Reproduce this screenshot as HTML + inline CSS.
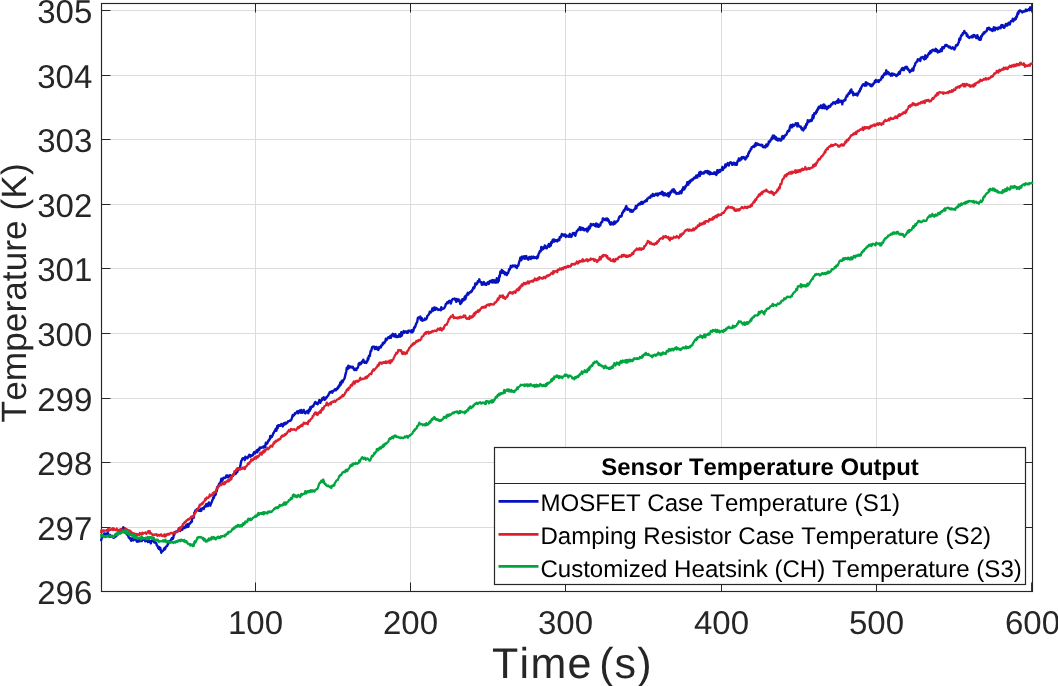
<!DOCTYPE html>
<html><head><meta charset="utf-8"><title>Sensor Temperature Output</title>
<style>
html,body{margin:0;padding:0;background:#fff;}
body{width:1058px;height:686px;overflow:hidden;font-family:"Liberation Sans",sans-serif;}
svg{display:block;will-change:transform;font-family:"Liberation Sans",sans-serif;font-kerning:none;font-feature-settings:"kern" 0,"liga" 0;text-rendering:geometricPrecision;}
.grid line{stroke:#dcdcdc;stroke-width:1;}
.ticks line{stroke:#262626;stroke-width:1;}
.tl text{font-size:33px;fill:#262626;}
.curve{fill:none;stroke-width:2.4;stroke-linejoin:round;stroke-linecap:round;}
</style></head><body>
<svg width="1058" height="686" viewBox="0 0 1058 686">
<rect x="0" y="0" width="1058" height="686" fill="#ffffff"/>
<g class="grid"><line x1="255.5" y1="3.5" x2="255.5" y2="591.5"/><line x1="410.5" y1="3.5" x2="410.5" y2="591.5"/><line x1="565.5" y1="3.5" x2="565.5" y2="591.5"/><line x1="721.5" y1="3.5" x2="721.5" y2="591.5"/><line x1="876.5" y1="3.5" x2="876.5" y2="591.5"/><line x1="101.5" y1="527.5" x2="1032.5" y2="527.5"/><line x1="101.5" y1="462.5" x2="1032.5" y2="462.5"/><line x1="101.5" y1="398.5" x2="1032.5" y2="398.5"/><line x1="101.5" y1="333.5" x2="1032.5" y2="333.5"/><line x1="101.5" y1="268.5" x2="1032.5" y2="268.5"/><line x1="101.5" y1="204.5" x2="1032.5" y2="204.5"/><line x1="101.5" y1="139.5" x2="1032.5" y2="139.5"/><line x1="101.5" y1="75.5" x2="1032.5" y2="75.5"/><line x1="101.5" y1="10.5" x2="1032.5" y2="10.5"/></g>
<g class="ticks"><line x1="255.5" y1="591.5" x2="255.5" y2="582.5"/><line x1="255.5" y1="3.5" x2="255.5" y2="12.5"/><line x1="410.5" y1="591.5" x2="410.5" y2="582.5"/><line x1="410.5" y1="3.5" x2="410.5" y2="12.5"/><line x1="565.5" y1="591.5" x2="565.5" y2="582.5"/><line x1="565.5" y1="3.5" x2="565.5" y2="12.5"/><line x1="721.5" y1="591.5" x2="721.5" y2="582.5"/><line x1="721.5" y1="3.5" x2="721.5" y2="12.5"/><line x1="876.5" y1="591.5" x2="876.5" y2="582.5"/><line x1="876.5" y1="3.5" x2="876.5" y2="12.5"/><line x1="1031.6" y1="591.5" x2="1031.6" y2="582.5"/><line x1="1031.6" y1="3.5" x2="1031.6" y2="12.5"/><line x1="101.5" y1="527.5" x2="110.5" y2="527.5"/><line x1="1032.5" y1="527.5" x2="1023.5" y2="527.5"/><line x1="101.5" y1="462.5" x2="110.5" y2="462.5"/><line x1="1032.5" y1="462.5" x2="1023.5" y2="462.5"/><line x1="101.5" y1="398.5" x2="110.5" y2="398.5"/><line x1="1032.5" y1="398.5" x2="1023.5" y2="398.5"/><line x1="101.5" y1="333.5" x2="110.5" y2="333.5"/><line x1="1032.5" y1="333.5" x2="1023.5" y2="333.5"/><line x1="101.5" y1="268.5" x2="110.5" y2="268.5"/><line x1="1032.5" y1="268.5" x2="1023.5" y2="268.5"/><line x1="101.5" y1="204.5" x2="110.5" y2="204.5"/><line x1="1032.5" y1="204.5" x2="1023.5" y2="204.5"/><line x1="101.5" y1="139.5" x2="110.5" y2="139.5"/><line x1="1032.5" y1="139.5" x2="1023.5" y2="139.5"/><line x1="101.5" y1="75.5" x2="110.5" y2="75.5"/><line x1="1032.5" y1="75.5" x2="1023.5" y2="75.5"/><line x1="101.5" y1="10.5" x2="110.5" y2="10.5"/><line x1="1032.5" y1="10.5" x2="1023.5" y2="10.5"/></g>
<rect x="101.5" y="3.5" width="931.0" height="588.0" fill="none" stroke="#262626" stroke-width="1.15"/>
<clipPath id="cp"><rect x="100.1" y="3.5" width="933.6" height="588.0"/></clipPath>
<g clip-path="url(#cp)">
<path class="curve" stroke="#0512be" d="M100.8,540.2 L101.3,539.7 L101.8,537.8 L102.3,536.5 L102.8,535.6 L103.3,536.0 L103.8,534.4 L104.3,533.4 L104.8,534.6 L105.3,534.6 L105.8,535.0 L106.3,533.6 L106.8,534.4 L107.3,534.4 L107.8,533.0 L108.3,534.9 L108.8,534.7 L109.3,536.8 L109.8,535.0 L110.3,535.0 L110.8,536.6 L111.3,535.9 L111.8,536.8 L112.3,535.9 L112.8,536.8 L113.3,537.8 L113.8,537.8 L114.3,537.5 L114.8,536.0 L115.3,536.8 L115.8,535.9 L116.3,535.9 L116.8,534.8 L117.3,535.0 L117.8,533.4 L118.3,533.0 L118.8,532.8 L119.3,530.6 L119.8,530.6 L120.3,529.9 L120.8,531.7 L121.3,529.1 L121.8,529.2 L122.3,529.1 L122.8,528.3 L123.3,527.3 L123.8,529.8 L124.3,528.6 L124.8,529.8 L125.3,528.6 L125.8,530.5 L126.3,533.3 L126.8,534.5 L127.3,533.1 L127.8,534.2 L128.3,536.3 L128.8,537.6 L129.3,537.7 L129.8,538.5 L130.3,537.9 L130.8,540.0 L131.3,540.8 L131.8,539.3 L132.3,538.4 L132.8,539.0 L133.3,540.4 L133.8,538.1 L134.3,539.6 L134.8,538.8 L135.3,539.6 L135.8,539.6 L136.3,540.0 L136.8,541.5 L137.3,540.7 L137.8,541.7 L138.3,540.5 L138.8,540.4 L139.3,541.3 L139.8,538.9 L140.3,541.1 L140.8,541.1 L141.3,539.6 L141.8,541.0 L142.3,539.9 L142.8,538.0 L143.3,539.8 L143.8,538.9 L144.3,539.3 L144.8,539.8 L145.3,541.3 L145.8,540.3 L146.3,540.3 L146.8,540.8 L147.3,539.0 L147.8,542.1 L148.3,540.2 L148.8,541.8 L149.3,540.6 L149.8,541.0 L150.3,541.5 L150.8,543.4 L151.3,542.0 L151.8,540.5 L152.3,540.6 L152.8,539.5 L153.3,540.8 L153.8,540.8 L154.3,542.5 L154.8,541.0 L155.3,542.5 L155.8,542.5 L156.3,543.3 L156.8,545.4 L157.3,545.6 L157.8,546.8 L158.3,548.1 L158.8,548.8 L159.3,547.1 L159.8,549.5 L160.3,548.0 L160.8,550.2 L161.3,552.7 L161.8,551.3 L162.3,551.2 L162.8,551.1 L163.3,550.3 L163.8,549.7 L164.3,548.3 L164.8,549.4 L165.3,548.5 L165.8,546.8 L166.3,546.5 L166.8,546.1 L167.3,545.7 L167.8,544.3 L168.3,543.9 L168.8,542.4 L169.3,541.0 L169.8,540.9 L170.3,541.7 L170.8,541.1 L171.3,539.6 L171.8,538.2 L172.3,538.3 L172.8,538.8 L173.3,537.7 L173.8,535.1 L174.3,534.8 L174.8,532.5 L175.3,531.8 L175.8,532.2 L176.3,531.6 L176.8,531.9 L177.3,531.7 L177.8,530.8 L178.3,530.8 L178.8,528.6 L179.3,528.0 L179.8,529.4 L180.3,531.0 L180.8,529.1 L181.3,527.5 L181.8,528.8 L182.3,529.8 L182.8,527.2 L183.3,528.5 L183.8,526.8 L184.3,528.1 L184.8,527.3 L185.3,526.4 L185.8,527.6 L186.3,525.0 L186.8,524.6 L187.3,526.8 L187.8,524.2 L188.3,526.9 L188.8,524.7 L189.3,523.6 L189.8,523.8 L190.3,523.2 L190.8,522.5 L191.3,521.4 L191.8,521.8 L192.3,517.9 L192.8,518.2 L193.3,517.1 L193.8,517.6 L194.3,512.7 L194.8,512.9 L195.3,510.7 L195.8,510.2 L196.3,510.4 L196.8,509.2 L197.3,510.3 L197.8,508.7 L198.3,509.7 L198.8,510.8 L199.3,510.8 L199.8,509.9 L200.3,511.0 L200.8,508.7 L201.3,510.8 L201.8,508.9 L202.3,508.3 L202.8,508.3 L203.3,508.5 L203.8,508.9 L204.3,506.8 L204.8,506.2 L205.3,506.7 L205.8,505.0 L206.3,504.0 L206.8,506.2 L207.3,504.9 L207.8,506.1 L208.3,504.0 L208.8,502.5 L209.3,504.8 L209.8,504.6 L210.3,505.7 L210.8,504.0 L211.3,502.8 L211.8,502.0 L212.3,500.1 L212.8,499.6 L213.3,497.2 L213.8,498.0 L214.3,495.7 L214.8,495.1 L215.3,495.1 L215.8,494.2 L216.3,490.4 L216.8,491.2 L217.3,486.9 L217.8,487.2 L218.3,486.3 L218.8,484.7 L219.3,483.6 L219.8,484.3 L220.3,482.7 L220.8,481.5 L221.3,478.8 L221.8,479.4 L222.3,480.7 L222.8,479.4 L223.3,477.9 L223.8,477.8 L224.3,477.6 L224.8,478.1 L225.3,477.4 L225.8,477.6 L226.3,475.4 L226.8,476.9 L227.3,475.5 L227.8,475.6 L228.3,477.4 L228.8,475.8 L229.3,475.6 L229.8,475.4 L230.3,475.2 L230.8,477.0 L231.3,476.7 L231.8,476.0 L232.3,475.5 L232.8,476.0 L233.3,474.5 L233.8,474.5 L234.3,473.9 L234.8,473.1 L235.3,474.1 L235.8,473.7 L236.3,472.8 L236.8,469.2 L237.3,472.1 L237.8,470.3 L238.3,468.5 L238.8,468.2 L239.3,468.5 L239.8,467.8 L240.3,466.2 L240.8,463.3 L241.3,460.9 L241.8,460.1 L242.3,459.0 L242.8,458.1 L243.3,458.1 L243.8,458.4 L244.3,458.6 L244.8,460.2 L245.3,456.6 L245.8,458.1 L246.3,457.4 L246.8,457.5 L247.3,458.2 L247.8,457.8 L248.3,456.3 L248.8,455.7 L249.3,454.8 L249.8,455.8 L250.3,456.8 L250.8,455.2 L251.3,455.9 L251.8,455.7 L252.3,455.2 L252.8,455.4 L253.3,453.9 L253.8,452.8 L254.3,452.0 L254.8,453.6 L255.3,452.0 L255.8,451.6 L256.3,452.2 L256.8,450.3 L257.3,452.3 L257.8,450.9 L258.3,449.3 L258.8,448.8 L259.3,450.1 L259.8,447.5 L260.3,447.6 L260.8,447.9 L261.3,447.9 L261.8,447.4 L262.3,447.5 L262.8,446.6 L263.3,446.6 L263.8,447.6 L264.3,446.8 L264.8,445.5 L265.3,447.0 L265.8,442.8 L266.3,444.0 L266.8,443.8 L267.3,443.4 L267.8,441.8 L268.3,440.6 L268.8,440.8 L269.3,439.4 L269.8,439.3 L270.3,436.0 L270.8,437.8 L271.3,436.0 L271.8,436.9 L272.3,435.9 L272.8,435.0 L273.3,433.1 L273.8,433.0 L274.3,431.4 L274.8,431.0 L275.3,430.1 L275.8,428.8 L276.3,430.8 L276.8,429.1 L277.3,425.9 L277.8,428.0 L278.3,425.3 L278.8,425.9 L279.3,425.4 L279.8,425.3 L280.3,425.8 L280.8,425.1 L281.3,423.9 L281.8,425.1 L282.3,425.3 L282.8,426.4 L283.3,424.2 L283.8,423.2 L284.3,423.7 L284.8,424.4 L285.3,422.7 L285.8,422.6 L286.3,423.6 L286.8,422.8 L287.3,422.8 L287.8,421.7 L288.3,421.2 L288.8,421.3 L289.3,421.0 L289.8,420.5 L290.3,420.8 L290.8,420.5 L291.3,419.6 L291.8,418.5 L292.3,416.2 L292.8,415.0 L293.3,416.1 L293.8,415.0 L294.3,414.8 L294.8,413.3 L295.3,413.8 L295.8,413.1 L296.3,412.5 L296.8,412.4 L297.3,411.3 L297.8,412.5 L298.3,413.3 L298.8,411.3 L299.3,411.8 L299.8,410.4 L300.3,411.8 L300.8,412.8 L301.3,410.0 L301.8,411.1 L302.3,412.8 L302.8,412.0 L303.3,411.9 L303.8,410.0 L304.3,411.9 L304.8,413.0 L305.3,413.5 L305.8,412.8 L306.3,411.7 L306.8,411.7 L307.3,410.7 L307.8,411.5 L308.3,413.3 L308.8,411.3 L309.3,409.3 L309.8,410.9 L310.3,407.2 L310.8,409.1 L311.3,406.8 L311.8,406.9 L312.3,406.8 L312.8,405.9 L313.3,406.3 L313.8,404.6 L314.3,403.8 L314.8,403.0 L315.3,401.9 L315.8,402.4 L316.3,403.7 L316.8,403.3 L317.3,403.6 L317.8,404.2 L318.3,402.4 L318.8,402.0 L319.3,400.0 L319.8,400.8 L320.3,402.8 L320.8,401.1 L321.3,400.2 L321.8,400.4 L322.3,398.1 L322.8,398.8 L323.3,398.1 L323.8,397.2 L324.3,399.7 L324.8,399.7 L325.3,398.4 L325.8,398.7 L326.3,397.2 L326.8,397.4 L327.3,396.4 L327.8,395.9 L328.3,395.5 L328.8,394.0 L329.3,393.1 L329.8,392.0 L330.3,391.8 L330.8,392.6 L331.3,392.1 L331.8,391.3 L332.3,392.7 L332.8,391.6 L333.3,390.8 L333.8,390.4 L334.3,390.5 L334.8,389.4 L335.3,389.2 L335.8,390.3 L336.3,389.1 L336.8,388.6 L337.3,389.2 L337.8,387.2 L338.3,387.8 L338.8,385.8 L339.3,386.6 L339.8,385.1 L340.3,382.5 L340.8,384.8 L341.3,383.0 L341.8,380.8 L342.3,382.3 L342.8,381.8 L343.3,380.0 L343.8,379.8 L344.3,378.8 L344.8,377.5 L345.3,375.1 L345.8,373.1 L346.3,371.5 L346.8,367.6 L347.3,368.5 L347.8,368.8 L348.3,365.8 L348.8,368.1 L349.3,367.8 L349.8,366.4 L350.3,366.8 L350.8,366.4 L351.3,367.4 L351.8,367.5 L352.3,367.6 L352.8,366.7 L353.3,368.5 L353.8,368.3 L354.3,370.0 L354.8,369.9 L355.3,368.7 L355.8,369.3 L356.3,370.0 L356.8,368.5 L357.3,368.4 L357.8,367.7 L358.3,366.0 L358.8,363.4 L359.3,363.3 L359.8,364.5 L360.3,362.6 L360.8,364.2 L361.3,362.7 L361.8,362.9 L362.3,361.2 L362.8,361.6 L363.3,359.6 L363.8,361.8 L364.3,362.7 L364.8,361.5 L365.3,361.7 L365.8,362.6 L366.3,362.9 L366.8,361.4 L367.3,361.6 L367.8,358.2 L368.3,359.6 L368.8,356.1 L369.3,355.4 L369.8,356.1 L370.3,352.6 L370.8,350.6 L371.3,350.8 L371.8,348.5 L372.3,347.0 L372.8,346.7 L373.3,346.7 L373.8,346.6 L374.3,346.6 L374.8,349.1 L375.3,347.1 L375.8,348.8 L376.3,346.9 L376.8,349.0 L377.3,347.6 L377.8,348.7 L378.3,350.0 L378.8,348.8 L379.3,346.9 L379.8,347.6 L380.3,347.4 L380.8,347.5 L381.3,345.4 L381.8,345.5 L382.3,345.2 L382.8,343.0 L383.3,343.8 L383.8,342.6 L384.3,343.1 L384.8,342.0 L385.3,341.4 L385.8,338.7 L386.3,340.3 L386.8,339.5 L387.3,338.5 L387.8,338.4 L388.3,337.2 L388.8,338.0 L389.3,338.0 L389.8,337.4 L390.3,336.0 L390.8,337.9 L391.3,336.8 L391.8,334.9 L392.3,335.4 L392.8,333.8 L393.3,335.2 L393.8,336.0 L394.3,336.6 L394.8,335.2 L395.3,334.0 L395.8,335.6 L396.3,337.1 L396.8,336.1 L397.3,336.9 L397.8,336.3 L398.3,336.8 L398.8,335.7 L399.3,334.3 L399.8,335.2 L400.3,336.7 L400.8,333.8 L401.3,332.2 L401.8,335.7 L402.3,333.8 L402.8,332.5 L403.3,332.2 L403.8,331.0 L404.3,332.8 L404.8,332.2 L405.3,331.4 L405.8,331.5 L406.3,331.4 L406.8,332.7 L407.3,331.4 L407.8,332.8 L408.3,330.6 L408.8,330.8 L409.3,330.9 L409.8,330.8 L410.3,331.2 L410.8,332.2 L411.3,332.3 L411.8,330.2 L412.3,332.3 L412.8,330.9 L413.3,331.3 L413.8,328.7 L414.3,327.2 L414.8,327.7 L415.3,326.6 L415.8,324.6 L416.3,323.7 L416.8,322.5 L417.3,321.4 L417.8,318.2 L418.3,317.4 L418.8,317.6 L419.3,318.0 L419.8,317.6 L420.3,316.6 L420.8,319.8 L421.3,318.5 L421.8,318.0 L422.3,320.7 L422.8,320.4 L423.3,320.4 L423.8,320.2 L424.3,320.0 L424.8,318.6 L425.3,319.6 L425.8,319.5 L426.3,319.0 L426.8,318.1 L427.3,316.0 L427.8,315.6 L428.3,315.1 L428.8,314.5 L429.3,313.2 L429.8,311.7 L430.3,311.6 L430.8,312.4 L431.3,311.5 L431.8,311.4 L432.3,308.5 L432.8,309.6 L433.3,310.6 L433.8,307.7 L434.3,308.3 L434.8,307.5 L435.3,309.9 L435.8,308.6 L436.3,307.9 L436.8,308.7 L437.3,308.6 L437.8,309.6 L438.3,310.0 L438.8,309.8 L439.3,309.4 L439.8,309.9 L440.3,309.9 L440.8,310.2 L441.3,307.3 L441.8,309.3 L442.3,309.0 L442.8,309.0 L443.3,308.5 L443.8,308.4 L444.3,308.1 L444.8,307.0 L445.3,306.1 L445.8,304.1 L446.3,303.5 L446.8,303.6 L447.3,302.3 L447.8,303.2 L448.3,302.5 L448.8,301.3 L449.3,300.8 L449.8,301.9 L450.3,301.4 L450.8,303.6 L451.3,302.0 L451.8,300.0 L452.3,299.9 L452.8,299.0 L453.3,298.9 L453.8,298.9 L454.3,298.9 L454.8,298.6 L455.3,300.2 L455.8,300.3 L456.3,301.8 L456.8,299.0 L457.3,301.1 L457.8,300.3 L458.3,299.4 L458.8,300.9 L459.3,299.9 L459.8,301.7 L460.3,304.1 L460.8,302.8 L461.3,303.0 L461.8,302.1 L462.3,299.3 L462.8,300.8 L463.3,300.2 L463.8,300.2 L464.3,298.3 L464.8,296.5 L465.3,299.4 L465.8,297.7 L466.3,296.0 L466.8,294.4 L467.3,294.4 L467.8,292.8 L468.3,294.5 L468.8,293.5 L469.3,292.9 L469.8,292.3 L470.3,292.4 L470.8,292.3 L471.3,291.0 L471.8,291.5 L472.3,290.0 L472.8,288.9 L473.3,287.4 L473.8,288.5 L474.3,287.8 L474.8,286.5 L475.3,283.4 L475.8,284.1 L476.3,284.6 L476.8,283.1 L477.3,283.5 L477.8,281.2 L478.3,281.7 L478.8,281.6 L479.3,279.3 L479.8,281.5 L480.3,282.0 L480.8,282.1 L481.3,282.2 L481.8,284.9 L482.3,283.7 L482.8,284.6 L483.3,282.7 L483.8,282.0 L484.3,283.6 L484.8,284.5 L485.3,283.5 L485.8,284.7 L486.3,284.8 L486.8,283.2 L487.3,283.2 L487.8,282.2 L488.3,283.6 L488.8,283.9 L489.3,282.3 L489.8,281.0 L490.3,280.8 L490.8,281.1 L491.3,282.1 L491.8,280.5 L492.3,282.5 L492.8,279.9 L493.3,280.9 L493.8,282.1 L494.3,282.4 L494.8,280.3 L495.3,281.3 L495.8,282.7 L496.3,281.5 L496.8,278.3 L497.3,280.5 L497.8,282.4 L498.3,279.0 L498.8,280.9 L499.3,275.7 L499.8,276.6 L500.3,271.8 L500.8,272.7 L501.3,272.9 L501.8,270.0 L502.3,271.0 L502.8,272.7 L503.3,271.1 L503.8,272.7 L504.3,272.0 L504.8,274.4 L505.3,272.8 L505.8,272.7 L506.3,274.3 L506.8,275.1 L507.3,273.9 L507.8,273.3 L508.3,272.5 L508.8,270.6 L509.3,268.9 L509.8,269.5 L510.3,267.7 L510.8,265.8 L511.3,267.3 L511.8,266.8 L512.3,266.4 L512.8,265.4 L513.3,265.8 L513.8,266.4 L514.3,266.4 L514.8,265.4 L515.3,265.6 L515.8,267.0 L516.3,267.1 L516.8,267.9 L517.3,265.6 L517.8,266.2 L518.3,265.6 L518.8,263.5 L519.3,261.4 L519.8,260.7 L520.3,257.7 L520.8,258.2 L521.3,260.3 L521.8,256.6 L522.3,256.9 L522.8,258.5 L523.3,256.8 L523.8,256.7 L524.3,256.2 L524.8,258.9 L525.3,256.9 L525.8,257.3 L526.3,256.0 L526.8,258.6 L527.3,257.9 L527.8,258.5 L528.3,259.7 L528.8,258.3 L529.3,257.0 L529.8,257.0 L530.3,258.0 L530.8,259.1 L531.3,256.6 L531.8,257.4 L532.3,257.4 L532.8,258.1 L533.3,256.6 L533.8,257.7 L534.3,258.1 L534.8,257.3 L535.3,257.2 L535.8,257.9 L536.3,257.8 L536.8,258.4 L537.3,256.2 L537.8,257.7 L538.3,255.3 L538.8,253.4 L539.3,252.9 L539.8,251.2 L540.3,251.1 L540.8,251.2 L541.3,247.0 L541.8,247.8 L542.3,249.5 L542.8,248.3 L543.3,249.1 L543.8,246.9 L544.3,247.9 L544.8,245.5 L545.3,246.7 L545.8,248.0 L546.3,248.2 L546.8,248.3 L547.3,246.5 L547.8,245.5 L548.3,245.7 L548.8,244.0 L549.3,246.8 L549.8,246.2 L550.3,243.6 L550.8,245.6 L551.3,241.9 L551.8,243.1 L552.3,241.2 L552.8,239.7 L553.3,241.0 L553.8,239.5 L554.3,241.7 L554.8,239.8 L555.3,240.8 L555.8,240.3 L556.3,240.9 L556.8,240.2 L557.3,241.4 L557.8,240.7 L558.3,239.6 L558.8,238.8 L559.3,240.2 L559.8,237.1 L560.3,236.8 L560.8,237.3 L561.3,236.0 L561.8,234.0 L562.3,235.4 L562.8,235.2 L563.3,234.6 L563.8,235.7 L564.3,234.5 L564.8,235.3 L565.3,234.5 L565.8,237.0 L566.3,235.3 L566.8,236.0 L567.3,236.0 L567.8,236.5 L568.3,235.7 L568.8,236.7 L569.3,236.2 L569.8,233.9 L570.3,236.5 L570.8,235.1 L571.3,236.9 L571.8,236.0 L572.3,235.2 L572.8,233.1 L573.3,233.0 L573.8,233.7 L574.3,234.2 L574.8,233.0 L575.3,235.9 L575.8,233.8 L576.3,232.6 L576.8,231.0 L577.3,230.9 L577.8,230.3 L578.3,229.4 L578.8,229.1 L579.3,229.5 L579.8,227.1 L580.3,229.0 L580.8,229.9 L581.3,227.6 L581.8,228.7 L582.3,228.6 L582.8,227.9 L583.3,229.9 L583.8,228.8 L584.3,230.3 L584.8,229.8 L585.3,229.3 L585.8,230.0 L586.3,229.5 L586.8,228.5 L587.3,231.5 L587.8,230.1 L588.3,230.2 L588.8,226.8 L589.3,228.8 L589.8,228.0 L590.3,226.5 L590.8,223.9 L591.3,225.5 L591.8,224.6 L592.3,224.9 L592.8,225.0 L593.3,224.0 L593.8,224.6 L594.3,224.6 L594.8,225.8 L595.3,224.2 L595.8,226.4 L596.3,223.5 L596.8,224.9 L597.3,226.5 L597.8,224.3 L598.3,226.7 L598.8,226.8 L599.3,225.0 L599.8,224.6 L600.3,225.4 L600.8,222.8 L601.3,222.7 L601.8,222.0 L602.3,221.9 L602.8,218.4 L603.3,218.7 L603.8,218.6 L604.3,219.4 L604.8,220.0 L605.3,220.0 L605.8,218.7 L606.3,220.2 L606.8,218.5 L607.3,219.4 L607.8,218.8 L608.3,220.9 L608.8,220.2 L609.3,222.6 L609.8,223.1 L610.3,224.5 L610.8,222.6 L611.3,222.2 L611.8,224.3 L612.3,224.1 L612.8,223.5 L613.3,222.8 L613.8,224.4 L614.3,221.4 L614.8,222.4 L615.3,223.5 L615.8,221.8 L616.3,222.1 L616.8,221.7 L617.3,221.2 L617.8,221.0 L618.3,219.9 L618.8,218.3 L619.3,216.8 L619.8,217.0 L620.3,216.0 L620.8,216.4 L621.3,216.5 L621.8,215.2 L622.3,212.8 L622.8,212.7 L623.3,211.6 L623.8,210.2 L624.3,210.9 L624.8,209.3 L625.3,208.2 L625.8,207.0 L626.3,206.1 L626.8,207.8 L627.3,209.8 L627.8,208.7 L628.3,209.1 L628.8,209.0 L629.3,209.9 L629.8,209.7 L630.3,211.5 L630.8,210.0 L631.3,210.0 L631.8,211.8 L632.3,211.4 L632.8,211.5 L633.3,210.8 L633.8,209.8 L634.3,209.5 L634.8,209.2 L635.3,208.3 L635.8,205.9 L636.3,208.4 L636.8,206.1 L637.3,205.5 L637.8,205.3 L638.3,204.4 L638.8,203.8 L639.3,204.0 L639.8,204.4 L640.3,203.0 L640.8,203.7 L641.3,201.9 L641.8,203.8 L642.3,202.0 L642.8,203.7 L643.3,202.3 L643.8,202.4 L644.3,201.6 L644.8,201.1 L645.3,201.5 L645.8,200.2 L646.3,200.4 L646.8,201.1 L647.3,198.7 L647.8,198.6 L648.3,198.3 L648.8,197.4 L649.3,197.5 L649.8,197.4 L650.3,197.7 L650.8,195.6 L651.3,195.7 L651.8,195.3 L652.3,196.2 L652.8,194.0 L653.3,195.2 L653.8,195.8 L654.3,195.8 L654.8,194.6 L655.3,194.4 L655.8,193.8 L656.3,195.1 L656.8,195.1 L657.3,193.6 L657.8,195.5 L658.3,194.6 L658.8,193.9 L659.3,193.3 L659.8,194.0 L660.3,193.0 L660.8,193.4 L661.3,192.6 L661.8,194.1 L662.3,191.7 L662.8,192.4 L663.3,195.2 L663.8,194.6 L664.3,195.3 L664.8,193.2 L665.3,194.8 L665.8,195.1 L666.3,195.0 L666.8,194.0 L667.3,195.6 L667.8,194.7 L668.3,193.1 L668.8,196.6 L669.3,194.4 L669.8,194.8 L670.3,192.3 L670.8,191.4 L671.3,192.4 L671.8,191.7 L672.3,189.7 L672.8,190.9 L673.3,189.6 L673.8,189.2 L674.3,192.4 L674.8,190.6 L675.3,192.6 L675.8,193.2 L676.3,192.7 L676.8,194.0 L677.3,193.1 L677.8,193.2 L678.3,193.1 L678.8,193.7 L679.3,193.4 L679.8,191.7 L680.3,192.0 L680.8,191.2 L681.3,193.3 L681.8,191.7 L682.3,189.3 L682.8,190.1 L683.3,187.3 L683.8,188.4 L684.3,189.5 L684.8,187.2 L685.3,187.8 L685.8,185.6 L686.3,185.8 L686.8,185.1 L687.3,182.1 L687.8,182.8 L688.3,184.7 L688.8,181.6 L689.3,182.9 L689.8,182.8 L690.3,180.5 L690.8,181.3 L691.3,180.5 L691.8,179.4 L692.3,180.3 L692.8,179.9 L693.3,178.4 L693.8,178.7 L694.3,177.6 L694.8,178.1 L695.3,178.0 L695.8,176.7 L696.3,175.5 L696.8,177.5 L697.3,177.6 L697.8,175.2 L698.3,175.6 L698.8,174.5 L699.3,172.4 L699.8,176.1 L700.3,173.9 L700.8,171.8 L701.3,173.8 L701.8,172.9 L702.3,173.5 L702.8,172.9 L703.3,172.7 L703.8,173.5 L704.3,171.9 L704.8,172.4 L705.3,171.2 L705.8,171.1 L706.3,172.4 L706.8,172.5 L707.3,170.9 L707.8,172.8 L708.3,173.5 L708.8,171.4 L709.3,172.4 L709.8,174.4 L710.3,172.1 L710.8,173.5 L711.3,173.8 L711.8,173.3 L712.3,173.4 L712.8,173.9 L713.3,173.7 L713.8,173.7 L714.3,172.3 L714.8,173.8 L715.3,172.6 L715.8,174.5 L716.3,174.9 L716.8,173.6 L717.3,170.3 L717.8,173.0 L718.3,171.9 L718.8,170.5 L719.3,170.1 L719.8,171.9 L720.3,169.9 L720.8,170.1 L721.3,169.9 L721.8,170.3 L722.3,166.9 L722.8,169.9 L723.3,167.6 L723.8,167.6 L724.3,168.1 L724.8,167.4 L725.3,164.4 L725.8,166.7 L726.3,165.5 L726.8,164.2 L727.3,164.1 L727.8,163.0 L728.3,165.1 L728.8,165.5 L729.3,163.4 L729.8,163.4 L730.3,162.3 L730.8,162.8 L731.3,162.4 L731.8,163.2 L732.3,164.8 L732.8,164.3 L733.3,164.4 L733.8,162.7 L734.3,164.5 L734.8,163.2 L735.3,163.2 L735.8,164.7 L736.3,163.2 L736.8,164.8 L737.3,162.0 L737.8,160.8 L738.3,161.0 L738.8,158.5 L739.3,160.0 L739.8,160.6 L740.3,158.8 L740.8,158.2 L741.3,159.5 L741.8,157.1 L742.3,158.3 L742.8,157.3 L743.3,158.1 L743.8,157.1 L744.3,158.4 L744.8,158.3 L745.3,159.4 L745.8,157.5 L746.3,158.2 L746.8,156.2 L747.3,156.5 L747.8,156.2 L748.3,153.5 L748.8,153.4 L749.3,151.4 L749.8,151.4 L750.3,150.5 L750.8,148.8 L751.3,149.1 L751.8,147.2 L752.3,147.1 L752.8,146.7 L753.3,146.2 L753.8,146.0 L754.3,146.9 L754.8,144.5 L755.3,144.8 L755.8,143.1 L756.3,145.5 L756.8,143.4 L757.3,143.8 L757.8,143.8 L758.3,144.8 L758.8,144.4 L759.3,144.6 L759.8,145.1 L760.3,144.9 L760.8,145.4 L761.3,144.7 L761.8,145.3 L762.3,144.9 L762.8,147.0 L763.3,147.2 L763.8,147.1 L764.3,147.0 L764.8,146.3 L765.3,147.5 L765.8,145.7 L766.3,144.4 L766.8,144.6 L767.3,146.2 L767.8,144.2 L768.3,144.5 L768.8,141.5 L769.3,142.2 L769.8,141.9 L770.3,140.7 L770.8,139.4 L771.3,139.6 L771.8,137.5 L772.3,139.0 L772.8,135.7 L773.3,135.5 L773.8,136.1 L774.3,135.8 L774.8,138.5 L775.3,137.9 L775.8,137.0 L776.3,139.7 L776.8,139.8 L777.3,138.5 L777.8,140.5 L778.3,140.3 L778.8,138.8 L779.3,138.9 L779.8,139.9 L780.3,140.5 L780.8,140.6 L781.3,140.2 L781.8,137.9 L782.3,136.4 L782.8,136.1 L783.3,138.6 L783.8,137.6 L784.3,137.2 L784.8,135.6 L785.3,135.2 L785.8,135.1 L786.3,134.6 L786.8,133.7 L787.3,132.2 L787.8,130.9 L788.3,131.5 L788.8,130.3 L789.3,130.8 L789.8,127.6 L790.3,125.9 L790.8,125.0 L791.3,126.2 L791.8,127.4 L792.3,125.2 L792.8,124.5 L793.3,125.2 L793.8,126.0 L794.3,125.2 L794.8,124.7 L795.3,124.4 L795.8,123.2 L796.3,124.0 L796.8,124.7 L797.3,126.4 L797.8,123.1 L798.3,125.0 L798.8,126.3 L799.3,126.1 L799.8,126.6 L800.3,126.8 L800.8,126.6 L801.3,128.3 L801.8,129.5 L802.3,128.3 L802.8,129.4 L803.3,130.4 L803.8,129.2 L804.3,128.8 L804.8,126.5 L805.3,128.0 L805.8,126.9 L806.3,123.9 L806.8,124.8 L807.3,123.1 L807.8,120.3 L808.3,122.1 L808.8,121.6 L809.3,121.5 L809.8,121.3 L810.3,119.9 L810.8,121.1 L811.3,120.0 L811.8,120.8 L812.3,118.1 L812.8,115.2 L813.3,118.4 L813.8,116.3 L814.3,113.3 L814.8,113.7 L815.3,112.7 L815.8,113.4 L816.3,111.1 L816.8,111.9 L817.3,109.4 L817.8,109.9 L818.3,107.6 L818.8,106.8 L819.3,108.2 L819.8,107.2 L820.3,107.7 L820.8,105.4 L821.3,105.7 L821.8,106.1 L822.3,108.2 L822.8,106.8 L823.3,104.9 L823.8,104.4 L824.3,108.4 L824.8,107.1 L825.3,105.7 L825.8,107.9 L826.3,107.9 L826.8,109.2 L827.3,107.3 L827.8,106.7 L828.3,107.9 L828.8,105.9 L829.3,106.7 L829.8,106.2 L830.3,106.6 L830.8,105.2 L831.3,104.3 L831.8,103.8 L832.3,104.3 L832.8,103.2 L833.3,102.3 L833.8,102.5 L834.3,102.7 L834.8,102.4 L835.3,103.8 L835.8,102.0 L836.3,102.0 L836.8,101.1 L837.3,102.5 L837.8,102.8 L838.3,99.3 L838.8,102.3 L839.3,100.6 L839.8,102.0 L840.3,101.8 L840.8,100.6 L841.3,100.6 L841.8,101.7 L842.3,104.3 L842.8,101.0 L843.3,101.6 L843.8,100.9 L844.3,100.0 L844.8,100.4 L845.3,100.4 L845.8,97.5 L846.3,97.0 L846.8,95.4 L847.3,96.5 L847.8,94.4 L848.3,94.4 L848.8,93.0 L849.3,93.7 L849.8,91.9 L850.3,90.6 L850.8,92.6 L851.3,89.5 L851.8,92.0 L852.3,92.0 L852.8,92.0 L853.3,95.3 L853.8,94.2 L854.3,94.0 L854.8,93.7 L855.3,94.8 L855.8,94.4 L856.3,94.0 L856.8,93.5 L857.3,95.5 L857.8,94.2 L858.3,93.7 L858.8,91.7 L859.3,91.0 L859.8,91.3 L860.3,88.8 L860.8,89.1 L861.3,87.2 L861.8,86.6 L862.3,85.7 L862.8,84.6 L863.3,84.4 L863.8,84.2 L864.3,84.5 L864.8,85.7 L865.3,84.1 L865.8,82.2 L866.3,85.6 L866.8,83.5 L867.3,83.1 L867.8,83.9 L868.3,83.8 L868.8,84.2 L869.3,84.1 L869.8,84.2 L870.3,85.6 L870.8,86.1 L871.3,84.7 L871.8,86.2 L872.3,85.3 L872.8,85.1 L873.3,83.7 L873.8,83.1 L874.3,83.2 L874.8,81.0 L875.3,81.5 L875.8,79.9 L876.3,81.9 L876.8,81.2 L877.3,81.6 L877.8,80.7 L878.3,80.3 L878.8,81.9 L879.3,80.6 L879.8,80.4 L880.3,79.9 L880.8,79.6 L881.3,78.6 L881.8,76.8 L882.3,76.1 L882.8,77.4 L883.3,75.4 L883.8,74.9 L884.3,73.6 L884.8,74.7 L885.3,73.6 L885.8,72.1 L886.3,70.3 L886.8,74.0 L887.3,72.2 L887.8,72.0 L888.3,73.1 L888.8,72.8 L889.3,74.3 L889.8,74.2 L890.3,73.9 L890.8,75.7 L891.3,74.3 L891.8,73.4 L892.3,75.5 L892.8,74.7 L893.3,74.3 L893.8,73.8 L894.3,74.7 L894.8,74.8 L895.3,74.7 L895.8,74.6 L896.3,76.1 L896.8,75.7 L897.3,74.8 L897.8,74.9 L898.3,73.8 L898.8,72.3 L899.3,73.6 L899.8,73.7 L900.3,71.1 L900.8,70.5 L901.3,69.9 L901.8,68.6 L902.3,69.8 L902.8,68.0 L903.3,70.1 L903.8,70.1 L904.3,68.3 L904.8,68.0 L905.3,66.9 L905.8,68.3 L906.3,67.8 L906.8,66.8 L907.3,67.7 L907.8,69.5 L908.3,69.1 L908.8,70.4 L909.3,70.7 L909.8,72.2 L910.3,70.4 L910.8,71.1 L911.3,70.8 L911.8,70.6 L912.3,68.7 L912.8,68.9 L913.3,70.5 L913.8,67.4 L914.3,66.1 L914.8,65.7 L915.3,63.5 L915.8,62.8 L916.3,62.2 L916.8,61.4 L917.3,61.6 L917.8,59.3 L918.3,59.9 L918.8,60.0 L919.3,59.2 L919.8,59.9 L920.3,61.0 L920.8,57.6 L921.3,57.5 L921.8,57.5 L922.3,57.1 L922.8,56.9 L923.3,57.8 L923.8,59.0 L924.3,59.5 L924.8,57.2 L925.3,55.3 L925.8,58.7 L926.3,57.2 L926.8,56.2 L927.3,56.9 L927.8,55.1 L928.3,54.4 L928.8,53.1 L929.3,54.1 L929.8,53.4 L930.3,51.3 L930.8,51.2 L931.3,52.5 L931.8,50.4 L932.3,50.3 L932.8,49.6 L933.3,49.8 L933.8,50.5 L934.3,49.9 L934.8,51.0 L935.3,51.0 L935.8,48.8 L936.3,50.9 L936.8,51.2 L937.3,50.0 L937.8,52.5 L938.3,52.0 L938.8,51.3 L939.3,51.8 L939.8,51.7 L940.3,51.0 L940.8,49.3 L941.3,49.3 L941.8,51.0 L942.3,47.1 L942.8,47.9 L943.3,47.3 L943.8,48.2 L944.3,46.9 L944.8,46.0 L945.3,45.0 L945.8,46.0 L946.3,44.9 L946.8,45.1 L947.3,45.6 L947.8,46.5 L948.3,46.2 L948.8,46.7 L949.3,47.6 L949.8,46.5 L950.3,47.3 L950.8,47.8 L951.3,48.5 L951.8,48.5 L952.3,47.7 L952.8,47.3 L953.3,48.1 L953.8,48.1 L954.3,49.5 L954.8,48.7 L955.3,47.5 L955.8,45.8 L956.3,44.9 L956.8,45.6 L957.3,45.4 L957.8,44.6 L958.3,43.1 L958.8,42.5 L959.3,38.7 L959.8,40.2 L960.3,39.2 L960.8,36.6 L961.3,35.6 L961.8,34.7 L962.3,35.2 L962.8,33.0 L963.3,32.8 L963.8,33.2 L964.3,31.0 L964.8,32.3 L965.3,32.7 L965.8,33.0 L966.3,33.3 L966.8,36.0 L967.3,34.6 L967.8,36.0 L968.3,37.3 L968.8,37.0 L969.3,37.9 L969.8,36.9 L970.3,37.0 L970.8,36.7 L971.3,37.2 L971.8,35.9 L972.3,37.3 L972.8,37.3 L973.3,35.3 L973.8,34.9 L974.3,35.1 L974.8,35.5 L975.3,36.9 L975.8,36.4 L976.3,38.1 L976.8,37.8 L977.3,35.1 L977.8,36.7 L978.3,37.2 L978.8,39.4 L979.3,39.1 L979.8,39.7 L980.3,37.8 L980.8,39.7 L981.3,36.0 L981.8,36.3 L982.3,34.7 L982.8,34.0 L983.3,34.3 L983.8,32.4 L984.3,33.3 L984.8,32.6 L985.3,31.6 L985.8,31.5 L986.3,31.4 L986.8,30.8 L987.3,28.1 L987.8,29.2 L988.3,28.9 L988.8,27.8 L989.3,27.9 L989.8,29.6 L990.3,29.2 L990.8,28.9 L991.3,30.3 L991.8,30.0 L992.3,30.9 L992.8,29.1 L993.3,30.3 L993.8,27.3 L994.3,28.4 L994.8,30.4 L995.3,27.8 L995.8,28.4 L996.3,28.0 L996.8,28.6 L997.3,29.1 L997.8,29.3 L998.3,27.5 L998.8,27.8 L999.3,28.2 L999.8,28.3 L1000.3,26.8 L1000.8,28.1 L1001.3,25.3 L1001.8,26.8 L1002.3,25.1 L1002.8,25.9 L1003.3,25.5 L1003.8,27.8 L1004.3,27.6 L1004.8,26.7 L1005.3,26.1 L1005.8,24.0 L1006.3,24.2 L1006.8,25.6 L1007.3,25.6 L1007.8,24.9 L1008.3,23.2 L1008.8,22.7 L1009.3,23.4 L1009.8,24.5 L1010.3,22.6 L1010.8,21.4 L1011.3,20.9 L1011.8,21.1 L1012.3,20.7 L1012.8,18.8 L1013.3,21.3 L1013.8,19.9 L1014.3,19.7 L1014.8,18.5 L1015.3,19.6 L1015.8,19.0 L1016.3,16.4 L1016.8,17.1 L1017.3,14.5 L1017.8,12.5 L1018.3,14.1 L1018.8,11.4 L1019.3,10.9 L1019.8,10.4 L1020.3,11.2 L1020.8,10.8 L1021.3,11.3 L1021.8,11.5 L1022.3,12.5 L1022.8,11.4 L1023.3,11.4 L1023.8,11.3 L1024.3,11.6 L1024.8,11.6 L1025.3,11.0 L1025.8,9.6 L1026.3,9.8 L1026.8,10.9 L1027.3,10.3 L1027.8,10.1 L1028.3,9.6 L1028.8,9.0 L1029.3,10.3 L1029.8,9.6 L1030.3,7.3 L1030.8,8.3 L1031.3,7.7"/>
<path class="curve" stroke="#dc2030" style="stroke-width:2.25" d="M100.8,532.3 L101.3,530.3 L101.8,531.1 L102.3,531.1 L102.8,531.7 L103.3,530.2 L103.8,531.0 L104.3,530.8 L104.8,530.6 L105.3,530.6 L105.8,530.6 L106.3,530.6 L106.8,530.0 L107.3,530.8 L107.8,530.0 L108.3,528.5 L108.8,530.9 L109.3,529.6 L109.8,529.3 L110.3,529.9 L110.8,529.8 L111.3,529.6 L111.8,528.8 L112.3,529.5 L112.8,528.2 L113.3,530.2 L113.8,528.3 L114.3,529.2 L114.8,529.5 L115.3,529.9 L115.8,529.7 L116.3,530.4 L116.8,528.5 L117.3,530.2 L117.8,530.3 L118.3,530.3 L118.8,531.7 L119.3,529.9 L119.8,530.5 L120.3,529.1 L120.8,530.8 L121.3,529.4 L121.8,529.4 L122.3,532.3 L122.8,531.1 L123.3,530.6 L123.8,530.7 L124.3,529.5 L124.8,529.8 L125.3,530.9 L125.8,529.0 L126.3,530.8 L126.8,529.3 L127.3,530.7 L127.8,530.0 L128.3,532.4 L128.8,532.1 L129.3,531.2 L129.8,530.5 L130.3,531.5 L130.8,532.2 L131.3,531.8 L131.8,532.9 L132.3,533.6 L132.8,533.0 L133.3,533.0 L133.8,534.1 L134.3,533.5 L134.8,534.5 L135.3,533.9 L135.8,535.5 L136.3,534.3 L136.8,533.9 L137.3,535.0 L137.8,534.6 L138.3,534.3 L138.8,534.7 L139.3,535.2 L139.8,532.9 L140.3,534.3 L140.8,534.0 L141.3,533.9 L141.8,534.4 L142.3,532.7 L142.8,534.0 L143.3,533.2 L143.8,533.3 L144.3,533.0 L144.8,532.8 L145.3,532.5 L145.8,532.9 L146.3,533.9 L146.8,532.9 L147.3,532.5 L147.8,532.1 L148.3,531.1 L148.8,532.0 L149.3,533.4 L149.8,531.2 L150.3,533.1 L150.8,533.5 L151.3,533.3 L151.8,533.9 L152.3,534.6 L152.8,535.4 L153.3,534.8 L153.8,535.2 L154.3,534.4 L154.8,534.8 L155.3,534.5 L155.8,534.7 L156.3,534.3 L156.8,535.2 L157.3,535.8 L157.8,534.7 L158.3,535.0 L158.8,535.4 L159.3,535.0 L159.8,535.7 L160.3,535.2 L160.8,534.3 L161.3,534.4 L161.8,535.8 L162.3,535.7 L162.8,536.1 L163.3,535.6 L163.8,535.6 L164.3,534.4 L164.8,536.6 L165.3,534.9 L165.8,536.1 L166.3,534.3 L166.8,534.4 L167.3,534.8 L167.8,534.1 L168.3,533.7 L168.8,534.7 L169.3,534.3 L169.8,533.9 L170.3,533.3 L170.8,532.9 L171.3,533.0 L171.8,532.9 L172.3,533.2 L172.8,533.7 L173.3,532.9 L173.8,532.4 L174.3,532.4 L174.8,533.5 L175.3,532.5 L175.8,532.3 L176.3,532.0 L176.8,532.0 L177.3,531.4 L177.8,531.6 L178.3,530.9 L178.8,528.1 L179.3,529.2 L179.8,530.5 L180.3,527.3 L180.8,527.7 L181.3,527.8 L181.8,526.4 L182.3,526.7 L182.8,524.2 L183.3,523.6 L183.8,523.7 L184.3,522.7 L184.8,521.9 L185.3,522.4 L185.8,521.6 L186.3,520.8 L186.8,520.2 L187.3,520.3 L187.8,519.7 L188.3,518.9 L188.8,519.5 L189.3,519.1 L189.8,518.5 L190.3,518.6 L190.8,517.0 L191.3,517.2 L191.8,516.4 L192.3,517.2 L192.8,516.2 L193.3,516.8 L193.8,515.9 L194.3,514.0 L194.8,512.9 L195.3,513.2 L195.8,511.8 L196.3,511.1 L196.8,509.7 L197.3,510.1 L197.8,509.0 L198.3,508.3 L198.8,507.6 L199.3,506.1 L199.8,504.6 L200.3,505.3 L200.8,504.5 L201.3,503.9 L201.8,504.4 L202.3,503.0 L202.8,503.6 L203.3,502.1 L203.8,501.8 L204.3,501.1 L204.8,500.8 L205.3,498.7 L205.8,499.8 L206.3,498.7 L206.8,497.5 L207.3,498.2 L207.8,497.6 L208.3,497.8 L208.8,497.0 L209.3,496.3 L209.8,494.5 L210.3,496.4 L210.8,496.0 L211.3,495.2 L211.8,494.6 L212.3,494.9 L212.8,493.1 L213.3,493.9 L213.8,493.1 L214.3,492.0 L214.8,492.3 L215.3,491.6 L215.8,491.9 L216.3,490.6 L216.8,488.1 L217.3,487.1 L217.8,487.8 L218.3,487.1 L218.8,486.1 L219.3,485.2 L219.8,485.6 L220.3,484.4 L220.8,484.3 L221.3,485.0 L221.8,484.3 L222.3,483.4 L222.8,482.8 L223.3,483.3 L223.8,484.4 L224.3,482.5 L224.8,483.9 L225.3,481.8 L225.8,482.0 L226.3,482.4 L226.8,481.1 L227.3,481.4 L227.8,480.2 L228.3,481.4 L228.8,481.5 L229.3,479.9 L229.8,480.3 L230.3,479.3 L230.8,477.1 L231.3,479.4 L231.8,477.2 L232.3,476.3 L232.8,475.0 L233.3,473.9 L233.8,474.9 L234.3,471.3 L234.8,471.8 L235.3,471.1 L235.8,470.6 L236.3,470.7 L236.8,469.1 L237.3,468.2 L237.8,468.3 L238.3,469.3 L238.8,469.6 L239.3,469.4 L239.8,469.8 L240.3,468.2 L240.8,469.2 L241.3,468.9 L241.8,468.2 L242.3,467.7 L242.8,468.8 L243.3,467.6 L243.8,467.8 L244.3,467.2 L244.8,469.1 L245.3,467.7 L245.8,466.9 L246.3,466.4 L246.8,465.8 L247.3,465.4 L247.8,463.5 L248.3,463.3 L248.8,463.9 L249.3,463.8 L249.8,461.8 L250.3,462.1 L250.8,461.2 L251.3,459.4 L251.8,460.3 L252.3,459.3 L252.8,460.4 L253.3,459.4 L253.8,459.2 L254.3,457.9 L254.8,458.7 L255.3,456.9 L255.8,458.2 L256.3,458.6 L256.8,456.3 L257.3,457.4 L257.8,457.4 L258.3,455.8 L258.8,456.3 L259.3,455.2 L259.8,454.4 L260.3,452.9 L260.8,453.1 L261.3,452.4 L261.8,454.7 L262.3,452.8 L262.8,452.1 L263.3,450.8 L263.8,452.6 L264.3,450.1 L264.8,451.6 L265.3,450.9 L265.8,449.9 L266.3,449.0 L266.8,449.1 L267.3,447.9 L267.8,449.0 L268.3,449.4 L268.8,448.5 L269.3,448.3 L269.8,446.6 L270.3,446.9 L270.8,445.6 L271.3,445.6 L271.8,446.0 L272.3,446.7 L272.8,444.7 L273.3,444.2 L273.8,442.4 L274.3,443.5 L274.8,442.2 L275.3,441.4 L275.8,440.8 L276.3,441.5 L276.8,440.6 L277.3,440.8 L277.8,439.7 L278.3,439.4 L278.8,440.0 L279.3,439.1 L279.8,438.8 L280.3,439.0 L280.8,437.7 L281.3,436.5 L281.8,436.3 L282.3,435.4 L282.8,436.5 L283.3,435.6 L283.8,435.8 L284.3,435.7 L284.8,434.1 L285.3,434.4 L285.8,434.7 L286.3,433.4 L286.8,433.6 L287.3,432.4 L287.8,431.5 L288.3,431.6 L288.8,430.0 L289.3,431.4 L289.8,430.2 L290.3,431.1 L290.8,428.9 L291.3,429.4 L291.8,429.5 L292.3,429.3 L292.8,429.9 L293.3,429.3 L293.8,429.3 L294.3,429.2 L294.8,430.0 L295.3,430.1 L295.8,430.4 L296.3,429.6 L296.8,428.9 L297.3,428.5 L297.8,427.2 L298.3,427.9 L298.8,428.1 L299.3,426.4 L299.8,426.7 L300.3,426.9 L300.8,425.4 L301.3,425.6 L301.8,424.6 L302.3,426.1 L302.8,424.9 L303.3,424.3 L303.8,422.6 L304.3,423.6 L304.8,423.1 L305.3,423.6 L305.8,422.9 L306.3,423.5 L306.8,422.9 L307.3,423.8 L307.8,424.3 L308.3,421.4 L308.8,420.8 L309.3,421.4 L309.8,421.0 L310.3,419.5 L310.8,419.5 L311.3,418.7 L311.8,418.1 L312.3,418.0 L312.8,415.8 L313.3,416.1 L313.8,415.1 L314.3,413.7 L314.8,413.9 L315.3,412.4 L315.8,412.4 L316.3,414.3 L316.8,412.8 L317.3,415.0 L317.8,414.6 L318.3,413.6 L318.8,413.3 L319.3,411.8 L319.8,412.7 L320.3,411.0 L320.8,412.7 L321.3,409.8 L321.8,410.4 L322.3,408.1 L322.8,408.9 L323.3,409.4 L323.8,407.4 L324.3,406.4 L324.8,406.0 L325.3,405.9 L325.8,405.6 L326.3,404.0 L326.8,402.6 L327.3,404.2 L327.8,404.6 L328.3,405.5 L328.8,403.8 L329.3,403.7 L329.8,403.1 L330.3,403.9 L330.8,404.4 L331.3,402.1 L331.8,402.6 L332.3,401.6 L332.8,401.6 L333.3,401.7 L333.8,401.9 L334.3,400.7 L334.8,400.8 L335.3,401.7 L335.8,400.8 L336.3,400.6 L336.8,400.0 L337.3,399.3 L337.8,399.4 L338.3,399.1 L338.8,398.4 L339.3,398.8 L339.8,397.7 L340.3,398.1 L340.8,397.1 L341.3,397.3 L341.8,395.9 L342.3,395.6 L342.8,394.9 L343.3,396.3 L343.8,395.4 L344.3,394.5 L344.8,394.1 L345.3,392.4 L345.8,392.4 L346.3,391.3 L346.8,389.6 L347.3,390.1 L347.8,389.0 L348.3,390.1 L348.8,387.9 L349.3,387.4 L349.8,388.0 L350.3,386.7 L350.8,385.1 L351.3,385.7 L351.8,384.4 L352.3,385.6 L352.8,383.0 L353.3,382.9 L353.8,381.4 L354.3,382.3 L354.8,383.8 L355.3,382.0 L355.8,381.1 L356.3,381.6 L356.8,380.9 L357.3,380.7 L357.8,381.9 L358.3,381.3 L358.8,380.8 L359.3,380.7 L359.8,378.7 L360.3,377.8 L360.8,379.7 L361.3,379.3 L361.8,378.9 L362.3,378.7 L362.8,379.2 L363.3,378.9 L363.8,378.6 L364.3,378.6 L364.8,377.8 L365.3,377.3 L365.8,378.3 L366.3,376.7 L366.8,378.0 L367.3,376.7 L367.8,376.0 L368.3,376.4 L368.8,374.9 L369.3,374.6 L369.8,374.0 L370.3,373.7 L370.8,373.8 L371.3,374.3 L371.8,372.6 L372.3,371.0 L372.8,370.6 L373.3,369.4 L373.8,370.7 L374.3,370.2 L374.8,369.2 L375.3,368.7 L375.8,368.2 L376.3,367.6 L376.8,367.1 L377.3,366.3 L377.8,364.8 L378.3,365.7 L378.8,365.6 L379.3,363.0 L379.8,363.6 L380.3,362.5 L380.8,363.3 L381.3,362.6 L381.8,363.8 L382.3,363.5 L382.8,362.3 L383.3,362.3 L383.8,362.2 L384.3,362.9 L384.8,361.8 L385.3,362.7 L385.8,361.4 L386.3,363.2 L386.8,362.8 L387.3,361.6 L387.8,361.8 L388.3,362.5 L388.8,362.6 L389.3,360.7 L389.8,362.6 L390.3,363.2 L390.8,361.2 L391.3,360.1 L391.8,361.5 L392.3,360.2 L392.8,359.7 L393.3,359.5 L393.8,357.6 L394.3,357.0 L394.8,355.7 L395.3,354.7 L395.8,354.3 L396.3,352.7 L396.8,353.7 L397.3,352.5 L397.8,352.3 L398.3,350.0 L398.8,350.6 L399.3,350.2 L399.8,350.0 L400.3,350.7 L400.8,350.2 L401.3,350.6 L401.8,352.4 L402.3,353.8 L402.8,354.1 L403.3,352.4 L403.8,352.1 L404.3,352.9 L404.8,353.2 L405.3,354.2 L405.8,352.8 L406.3,352.5 L406.8,353.4 L407.3,351.3 L407.8,350.4 L408.3,350.6 L408.8,349.2 L409.3,347.8 L409.8,347.6 L410.3,346.9 L410.8,346.4 L411.3,345.4 L411.8,345.7 L412.3,344.4 L412.8,343.7 L413.3,344.6 L413.8,342.9 L414.3,343.8 L414.8,343.4 L415.3,342.5 L415.8,342.5 L416.3,341.0 L416.8,341.9 L417.3,340.7 L417.8,340.5 L418.3,341.1 L418.8,340.0 L419.3,340.4 L419.8,340.3 L420.3,340.3 L420.8,339.1 L421.3,338.8 L421.8,336.8 L422.3,336.3 L422.8,336.3 L423.3,336.0 L423.8,335.1 L424.3,333.9 L424.8,333.2 L425.3,332.8 L425.8,333.9 L426.3,332.0 L426.8,332.2 L427.3,332.6 L427.8,332.5 L428.3,331.7 L428.8,333.6 L429.3,332.3 L429.8,332.4 L430.3,332.8 L430.8,331.9 L431.3,332.5 L431.8,331.7 L432.3,331.0 L432.8,330.8 L433.3,331.6 L433.8,331.2 L434.3,330.9 L434.8,330.5 L435.3,330.5 L435.8,331.1 L436.3,331.2 L436.8,330.1 L437.3,330.3 L437.8,328.6 L438.3,329.0 L438.8,329.2 L439.3,328.9 L439.8,329.9 L440.3,327.8 L440.8,329.5 L441.3,329.6 L441.8,330.5 L442.3,328.5 L442.8,329.0 L443.3,329.2 L443.8,328.2 L444.3,326.2 L444.8,326.0 L445.3,324.8 L445.8,325.0 L446.3,324.8 L446.8,324.6 L447.3,323.0 L447.8,322.2 L448.3,321.3 L448.8,319.0 L449.3,319.1 L449.8,318.4 L450.3,317.3 L450.8,316.4 L451.3,316.9 L451.8,316.6 L452.3,316.7 L452.8,314.8 L453.3,316.1 L453.8,318.2 L454.3,318.0 L454.8,317.3 L455.3,317.5 L455.8,317.9 L456.3,317.7 L456.8,318.2 L457.3,318.4 L457.8,317.4 L458.3,318.1 L458.8,318.3 L459.3,317.1 L459.8,317.6 L460.3,316.7 L460.8,317.6 L461.3,317.6 L461.8,316.8 L462.3,317.0 L462.8,317.2 L463.3,317.1 L463.8,315.4 L464.3,316.2 L464.8,315.7 L465.3,315.7 L465.8,318.1 L466.3,318.2 L466.8,318.9 L467.3,318.8 L467.8,318.2 L468.3,318.5 L468.8,317.8 L469.3,319.0 L469.8,316.1 L470.3,317.9 L470.8,317.0 L471.3,317.7 L471.8,317.7 L472.3,315.9 L472.8,316.8 L473.3,316.1 L473.8,313.7 L474.3,315.7 L474.8,313.0 L475.3,312.4 L475.8,313.5 L476.3,311.9 L476.8,312.1 L477.3,311.5 L477.8,310.4 L478.3,311.9 L478.8,311.4 L479.3,309.9 L479.8,310.6 L480.3,309.0 L480.8,308.9 L481.3,308.2 L481.8,307.2 L482.3,307.7 L482.8,307.0 L483.3,307.7 L483.8,307.3 L484.3,306.5 L484.8,307.6 L485.3,306.7 L485.8,307.4 L486.3,305.5 L486.8,305.2 L487.3,304.7 L487.8,305.1 L488.3,304.5 L488.8,304.3 L489.3,305.5 L489.8,304.8 L490.3,303.9 L490.8,304.6 L491.3,304.2 L491.8,304.2 L492.3,304.3 L492.8,304.5 L493.3,304.6 L493.8,304.5 L494.3,303.5 L494.8,302.5 L495.3,302.8 L495.8,302.3 L496.3,301.9 L496.8,300.6 L497.3,300.6 L497.8,298.5 L498.3,299.8 L498.8,298.6 L499.3,297.7 L499.8,295.6 L500.3,296.1 L500.8,296.9 L501.3,295.9 L501.8,295.6 L502.3,296.6 L502.8,295.4 L503.3,298.0 L503.8,297.9 L504.3,296.9 L504.8,298.7 L505.3,298.8 L505.8,297.8 L506.3,297.3 L506.8,297.3 L507.3,295.8 L507.8,296.0 L508.3,294.3 L508.8,293.4 L509.3,293.0 L509.8,292.2 L510.3,293.1 L510.8,292.3 L511.3,292.9 L511.8,292.8 L512.3,293.6 L512.8,293.6 L513.3,291.9 L513.8,292.0 L514.3,291.9 L514.8,291.5 L515.3,292.9 L515.8,292.1 L516.3,290.7 L516.8,289.4 L517.3,289.6 L517.8,289.7 L518.3,290.4 L518.8,288.0 L519.3,289.6 L519.8,287.0 L520.3,287.8 L520.8,286.2 L521.3,286.2 L521.8,284.3 L522.3,286.0 L522.8,285.1 L523.3,283.9 L523.8,282.9 L524.3,284.2 L524.8,284.1 L525.3,282.9 L525.8,284.1 L526.3,283.5 L526.8,282.6 L527.3,282.7 L527.8,281.4 L528.3,283.4 L528.8,283.4 L529.3,282.4 L529.8,281.4 L530.3,281.3 L530.8,281.6 L531.3,281.0 L531.8,281.6 L532.3,280.6 L532.8,281.6 L533.3,281.6 L533.8,280.2 L534.3,279.8 L534.8,278.5 L535.3,280.1 L535.8,280.1 L536.3,279.0 L536.8,280.3 L537.3,278.8 L537.8,278.3 L538.3,279.5 L538.8,279.2 L539.3,277.2 L539.8,278.1 L540.3,277.6 L540.8,278.3 L541.3,278.5 L541.8,277.9 L542.3,278.2 L542.8,278.7 L543.3,277.7 L543.8,276.8 L544.3,276.8 L544.8,277.8 L545.3,278.2 L545.8,276.6 L546.3,276.8 L546.8,275.7 L547.3,275.6 L547.8,276.4 L548.3,275.1 L548.8,275.3 L549.3,274.9 L549.8,275.3 L550.3,274.3 L550.8,273.8 L551.3,273.3 L551.8,272.8 L552.3,273.5 L552.8,274.1 L553.3,271.2 L553.8,272.9 L554.3,271.3 L554.8,271.4 L555.3,271.5 L555.8,271.2 L556.3,271.1 L556.8,270.8 L557.3,272.3 L557.8,269.6 L558.3,269.8 L558.8,269.4 L559.3,269.8 L559.8,268.4 L560.3,269.0 L560.8,268.7 L561.3,269.7 L561.8,268.5 L562.3,267.9 L562.8,267.9 L563.3,269.1 L563.8,267.6 L564.3,267.1 L564.8,267.1 L565.3,267.2 L565.8,268.0 L566.3,266.6 L566.8,266.6 L567.3,266.8 L567.8,266.0 L568.3,266.9 L568.8,265.9 L569.3,266.3 L569.8,266.1 L570.3,266.6 L570.8,266.5 L571.3,264.5 L571.8,263.9 L572.3,263.8 L572.8,264.7 L573.3,264.5 L573.8,263.9 L574.3,263.7 L574.8,264.5 L575.3,263.8 L575.8,263.2 L576.3,263.2 L576.8,261.5 L577.3,263.2 L577.8,263.6 L578.3,262.0 L578.8,261.4 L579.3,262.4 L579.8,260.9 L580.3,261.3 L580.8,261.6 L581.3,261.0 L581.8,261.6 L582.3,259.6 L582.8,259.3 L583.3,261.4 L583.8,261.2 L584.3,261.0 L584.8,260.4 L585.3,260.6 L585.8,260.7 L586.3,259.4 L586.8,260.3 L587.3,259.4 L587.8,261.3 L588.3,260.0 L588.8,259.8 L589.3,260.1 L589.8,259.9 L590.3,259.8 L590.8,258.5 L591.3,259.0 L591.8,259.3 L592.3,259.0 L592.8,259.2 L593.3,259.0 L593.8,259.9 L594.3,261.0 L594.8,259.4 L595.3,259.6 L595.8,260.0 L596.3,260.0 L596.8,261.9 L597.3,261.9 L597.8,260.6 L598.3,259.9 L598.8,260.4 L599.3,259.7 L599.8,257.0 L600.3,258.1 L600.8,259.4 L601.3,256.9 L601.8,256.2 L602.3,255.8 L602.8,256.8 L603.3,254.9 L603.8,255.0 L604.3,255.5 L604.8,255.2 L605.3,255.5 L605.8,255.1 L606.3,255.4 L606.8,257.4 L607.3,256.1 L607.8,258.2 L608.3,258.7 L608.8,259.3 L609.3,258.5 L609.8,258.4 L610.3,259.5 L610.8,260.8 L611.3,260.6 L611.8,260.8 L612.3,260.4 L612.8,261.1 L613.3,259.1 L613.8,259.7 L614.3,261.6 L614.8,260.8 L615.3,261.0 L615.8,258.8 L616.3,259.1 L616.8,259.0 L617.3,258.7 L617.8,259.2 L618.3,257.5 L618.8,257.6 L619.3,256.6 L619.8,256.7 L620.3,256.9 L620.8,256.8 L621.3,257.0 L621.8,255.1 L622.3,256.4 L622.8,255.9 L623.3,254.8 L623.8,256.1 L624.3,254.9 L624.8,255.2 L625.3,255.9 L625.8,256.7 L626.3,255.5 L626.8,257.0 L627.3,256.3 L627.8,255.6 L628.3,256.7 L628.8,256.0 L629.3,255.2 L629.8,255.3 L630.3,256.0 L630.8,255.1 L631.3,254.4 L631.8,254.8 L632.3,253.0 L632.8,254.1 L633.3,254.0 L633.8,251.7 L634.3,251.1 L634.8,250.7 L635.3,250.5 L635.8,249.5 L636.3,249.5 L636.8,248.4 L637.3,249.4 L637.8,249.6 L638.3,249.5 L638.8,248.7 L639.3,249.7 L639.8,248.1 L640.3,248.7 L640.8,249.2 L641.3,249.9 L641.8,248.3 L642.3,248.7 L642.8,249.0 L643.3,248.9 L643.8,248.4 L644.3,246.2 L644.8,246.5 L645.3,245.9 L645.8,245.3 L646.3,244.4 L646.8,243.2 L647.3,242.6 L647.8,240.8 L648.3,241.9 L648.8,241.9 L649.3,241.6 L649.8,243.6 L650.3,242.6 L650.8,242.5 L651.3,243.7 L651.8,243.9 L652.3,244.3 L652.8,243.8 L653.3,244.4 L653.8,243.9 L654.3,244.7 L654.8,244.1 L655.3,243.3 L655.8,243.1 L656.3,243.9 L656.8,243.6 L657.3,241.4 L657.8,242.3 L658.3,241.3 L658.8,241.0 L659.3,239.7 L659.8,238.9 L660.3,238.9 L660.8,238.4 L661.3,238.2 L661.8,238.2 L662.3,237.8 L662.8,238.7 L663.3,236.3 L663.8,236.4 L664.3,236.9 L664.8,237.3 L665.3,236.2 L665.8,236.0 L666.3,237.2 L666.8,237.4 L667.3,237.6 L667.8,237.9 L668.3,236.8 L668.8,238.9 L669.3,238.5 L669.8,240.4 L670.3,239.0 L670.8,237.6 L671.3,238.8 L671.8,238.9 L672.3,238.7 L672.8,238.5 L673.3,237.7 L673.8,236.7 L674.3,237.6 L674.8,237.5 L675.3,237.2 L675.8,237.6 L676.3,237.3 L676.8,236.0 L677.3,236.8 L677.8,236.7 L678.3,237.0 L678.8,238.2 L679.3,236.7 L679.8,236.7 L680.3,234.4 L680.8,236.3 L681.3,234.7 L681.8,235.1 L682.3,233.5 L682.8,233.7 L683.3,233.8 L683.8,232.6 L684.3,232.2 L684.8,231.0 L685.3,230.5 L685.8,230.6 L686.3,229.8 L686.8,230.0 L687.3,229.4 L687.8,229.6 L688.3,230.4 L688.8,230.9 L689.3,229.6 L689.8,229.5 L690.3,230.0 L690.8,230.6 L691.3,230.1 L691.8,230.6 L692.3,229.7 L692.8,229.1 L693.3,228.4 L693.8,230.3 L694.3,229.8 L694.8,228.9 L695.3,229.0 L695.8,227.3 L696.3,228.2 L696.8,227.6 L697.3,227.1 L697.8,225.4 L698.3,226.1 L698.8,225.5 L699.3,225.8 L699.8,223.3 L700.3,224.9 L700.8,224.9 L701.3,223.6 L701.8,224.2 L702.3,223.4 L702.8,224.2 L703.3,222.8 L703.8,222.7 L704.3,221.7 L704.8,223.7 L705.3,221.5 L705.8,221.1 L706.3,221.0 L706.8,221.5 L707.3,221.2 L707.8,221.2 L708.3,221.7 L708.8,221.1 L709.3,219.1 L709.8,219.9 L710.3,219.4 L710.8,219.8 L711.3,219.0 L711.8,219.6 L712.3,218.5 L712.8,219.5 L713.3,217.2 L713.8,218.5 L714.3,218.0 L714.8,216.6 L715.3,216.0 L715.8,216.2 L716.3,216.7 L716.8,217.3 L717.3,214.9 L717.8,215.5 L718.3,214.5 L718.8,215.7 L719.3,215.0 L719.8,214.7 L720.3,214.9 L720.8,214.4 L721.3,214.9 L721.8,213.3 L722.3,212.8 L722.8,212.8 L723.3,212.5 L723.8,213.0 L724.3,211.5 L724.8,211.1 L725.3,210.3 L725.8,209.4 L726.3,207.9 L726.8,208.6 L727.3,208.1 L727.8,207.1 L728.3,206.4 L728.8,207.7 L729.3,207.5 L729.8,207.3 L730.3,207.6 L730.8,207.1 L731.3,207.5 L731.8,207.8 L732.3,207.1 L732.8,208.1 L733.3,208.4 L733.8,209.7 L734.3,208.2 L734.8,210.6 L735.3,210.9 L735.8,210.7 L736.3,210.9 L736.8,209.4 L737.3,210.4 L737.8,209.5 L738.3,209.4 L738.8,210.6 L739.3,209.2 L739.8,209.9 L740.3,208.8 L740.8,208.3 L741.3,208.0 L741.8,206.9 L742.3,207.4 L742.8,207.4 L743.3,208.2 L743.8,207.8 L744.3,207.9 L744.8,206.7 L745.3,206.9 L745.8,207.7 L746.3,207.9 L746.8,206.8 L747.3,208.0 L747.8,206.7 L748.3,207.1 L748.8,206.4 L749.3,207.0 L749.8,206.9 L750.3,206.8 L750.8,205.0 L751.3,205.1 L751.8,206.0 L752.3,203.7 L752.8,203.4 L753.3,202.5 L753.8,201.5 L754.3,202.4 L754.8,201.6 L755.3,199.3 L755.8,199.4 L756.3,199.7 L756.8,198.0 L757.3,197.0 L757.8,197.0 L758.3,196.3 L758.8,194.5 L759.3,194.4 L759.8,195.7 L760.3,193.6 L760.8,193.3 L761.3,192.6 L761.8,194.2 L762.3,191.7 L762.8,192.5 L763.3,191.8 L763.8,191.6 L764.3,190.7 L764.8,190.8 L765.3,191.0 L765.8,191.0 L766.3,189.6 L766.8,191.2 L767.3,190.8 L767.8,191.6 L768.3,191.6 L768.8,192.1 L769.3,192.2 L769.8,192.9 L770.3,192.7 L770.8,191.7 L771.3,191.3 L771.8,192.1 L772.3,193.5 L772.8,192.2 L773.3,192.8 L773.8,195.0 L774.3,193.5 L774.8,193.2 L775.3,193.1 L775.8,192.9 L776.3,191.6 L776.8,191.6 L777.3,189.7 L777.8,190.5 L778.3,189.9 L778.8,187.4 L779.3,188.4 L779.8,188.3 L780.3,184.2 L780.8,184.3 L781.3,184.1 L781.8,182.2 L782.3,179.9 L782.8,179.1 L783.3,178.5 L783.8,178.5 L784.3,176.7 L784.8,175.5 L785.3,175.9 L785.8,174.9 L786.3,176.4 L786.8,174.2 L787.3,174.9 L787.8,174.3 L788.3,173.1 L788.8,173.6 L789.3,172.3 L789.8,173.7 L790.3,172.5 L790.8,172.2 L791.3,171.8 L791.8,173.7 L792.3,172.9 L792.8,171.7 L793.3,172.1 L793.8,172.5 L794.3,172.3 L794.8,171.8 L795.3,170.2 L795.8,172.8 L796.3,171.4 L796.8,172.3 L797.3,170.4 L797.8,171.7 L798.3,172.0 L798.8,171.8 L799.3,170.0 L799.8,170.6 L800.3,171.6 L800.8,169.7 L801.3,170.6 L801.8,169.7 L802.3,168.6 L802.8,170.1 L803.3,169.9 L803.8,169.4 L804.3,168.9 L804.8,169.2 L805.3,167.0 L805.8,168.4 L806.3,169.7 L806.8,168.9 L807.3,169.3 L807.8,168.5 L808.3,168.9 L808.8,167.9 L809.3,169.1 L809.8,168.9 L810.3,168.1 L810.8,168.0 L811.3,167.7 L811.8,167.5 L812.3,167.6 L812.8,167.4 L813.3,164.8 L813.8,166.2 L814.3,166.4 L814.8,164.2 L815.3,164.3 L815.8,165.5 L816.3,162.8 L816.8,163.3 L817.3,162.2 L817.8,160.4 L818.3,160.6 L818.8,158.8 L819.3,159.2 L819.8,159.4 L820.3,158.5 L820.8,157.6 L821.3,156.4 L821.8,156.5 L822.3,156.3 L822.8,155.3 L823.3,154.8 L823.8,153.7 L824.3,153.1 L824.8,151.5 L825.3,152.5 L825.8,150.0 L826.3,149.5 L826.8,148.9 L827.3,148.3 L827.8,149.2 L828.3,147.6 L828.8,147.0 L829.3,146.5 L829.8,146.1 L830.3,146.5 L830.8,146.1 L831.3,144.7 L831.8,146.2 L832.3,145.3 L832.8,145.0 L833.3,145.7 L833.8,144.8 L834.3,144.9 L834.8,144.8 L835.3,144.0 L835.8,144.1 L836.3,144.5 L836.8,144.7 L837.3,145.1 L837.8,145.3 L838.3,146.6 L838.8,146.0 L839.3,146.6 L839.8,146.2 L840.3,145.2 L840.8,145.4 L841.3,144.4 L841.8,144.1 L842.3,145.5 L842.8,145.0 L843.3,145.0 L843.8,145.5 L844.3,143.7 L844.8,143.9 L845.3,141.7 L845.8,142.0 L846.3,142.4 L846.8,140.1 L847.3,139.6 L847.8,139.6 L848.3,140.3 L848.8,139.1 L849.3,137.8 L849.8,137.7 L850.3,136.7 L850.8,135.7 L851.3,135.1 L851.8,135.4 L852.3,134.7 L852.8,135.0 L853.3,133.7 L853.8,134.4 L854.3,133.2 L854.8,134.0 L855.3,133.5 L855.8,132.0 L856.3,133.8 L856.8,132.2 L857.3,131.2 L857.8,130.6 L858.3,131.3 L858.8,131.1 L859.3,130.2 L859.8,129.7 L860.3,129.9 L860.8,129.2 L861.3,129.3 L861.8,128.8 L862.3,129.5 L862.8,127.3 L863.3,130.1 L863.8,128.1 L864.3,128.2 L864.8,127.0 L865.3,128.7 L865.8,127.8 L866.3,127.6 L866.8,127.1 L867.3,128.1 L867.8,128.0 L868.3,127.2 L868.8,128.7 L869.3,126.9 L869.8,128.1 L870.3,127.1 L870.8,125.7 L871.3,126.2 L871.8,126.5 L872.3,125.5 L872.8,125.6 L873.3,125.2 L873.8,125.3 L874.3,124.4 L874.8,126.0 L875.3,124.8 L875.8,125.4 L876.3,124.1 L876.8,124.3 L877.3,123.3 L877.8,123.9 L878.3,124.9 L878.8,124.0 L879.3,123.2 L879.8,123.3 L880.3,124.0 L880.8,123.4 L881.3,125.0 L881.8,123.6 L882.3,123.4 L882.8,123.5 L883.3,123.8 L883.8,121.3 L884.3,121.5 L884.8,121.2 L885.3,119.9 L885.8,120.9 L886.3,120.6 L886.8,120.9 L887.3,120.5 L887.8,120.2 L888.3,119.8 L888.8,118.7 L889.3,120.4 L889.8,119.5 L890.3,118.2 L890.8,117.7 L891.3,118.7 L891.8,119.0 L892.3,118.6 L892.8,118.8 L893.3,118.9 L893.8,118.5 L894.3,117.5 L894.8,117.5 L895.3,116.4 L895.8,118.0 L896.3,116.7 L896.8,117.0 L897.3,118.1 L897.8,115.7 L898.3,116.0 L898.8,115.2 L899.3,114.2 L899.8,115.9 L900.3,114.9 L900.8,114.5 L901.3,114.7 L901.8,113.7 L902.3,113.9 L902.8,114.0 L903.3,112.4 L903.8,112.9 L904.3,112.4 L904.8,112.7 L905.3,113.3 L905.8,110.6 L906.3,111.9 L906.8,110.1 L907.3,109.7 L907.8,108.8 L908.3,107.7 L908.8,106.1 L909.3,106.5 L909.8,105.5 L910.3,106.9 L910.8,105.8 L911.3,104.7 L911.8,104.5 L912.3,105.3 L912.8,103.1 L913.3,104.4 L913.8,104.4 L914.3,103.7 L914.8,105.2 L915.3,104.3 L915.8,105.4 L916.3,104.8 L916.8,104.2 L917.3,104.3 L917.8,104.9 L918.3,103.3 L918.8,103.2 L919.3,103.5 L919.8,103.7 L920.3,103.6 L920.8,102.3 L921.3,102.0 L921.8,102.7 L922.3,102.4 L922.8,102.7 L923.3,101.2 L923.8,101.8 L924.3,101.3 L924.8,103.0 L925.3,100.3 L925.8,101.0 L926.3,101.1 L926.8,100.1 L927.3,100.9 L927.8,100.5 L928.3,99.8 L928.8,100.5 L929.3,101.6 L929.8,100.6 L930.3,101.3 L930.8,101.1 L931.3,100.2 L931.8,99.8 L932.3,98.3 L932.8,97.9 L933.3,98.9 L933.8,98.2 L934.3,97.6 L934.8,96.3 L935.3,96.1 L935.8,95.0 L936.3,95.8 L936.8,94.9 L937.3,93.0 L937.8,93.7 L938.3,94.6 L938.8,92.6 L939.3,92.2 L939.8,92.0 L940.3,92.2 L940.8,92.7 L941.3,92.6 L941.8,92.8 L942.3,92.4 L942.8,93.3 L943.3,93.9 L943.8,92.3 L944.3,93.2 L944.8,93.2 L945.3,93.0 L945.8,92.8 L946.3,93.1 L946.8,92.6 L947.3,92.3 L947.8,92.1 L948.3,93.1 L948.8,92.2 L949.3,91.1 L949.8,91.8 L950.3,91.5 L950.8,92.1 L951.3,92.0 L951.8,90.2 L952.3,91.6 L952.8,90.6 L953.3,91.2 L953.8,89.5 L954.3,89.9 L954.8,89.7 L955.3,89.9 L955.8,87.6 L956.3,88.2 L956.8,87.9 L957.3,87.4 L957.8,86.6 L958.3,86.7 L958.8,86.6 L959.3,87.7 L959.8,86.2 L960.3,86.7 L960.8,85.4 L961.3,85.7 L961.8,85.3 L962.3,85.2 L962.8,83.9 L963.3,84.7 L963.8,86.4 L964.3,84.8 L964.8,83.9 L965.3,86.4 L965.8,85.2 L966.3,85.2 L966.8,83.9 L967.3,84.8 L967.8,85.0 L968.3,85.3 L968.8,84.8 L969.3,86.2 L969.8,85.0 L970.3,86.8 L970.8,86.2 L971.3,86.1 L971.8,85.4 L972.3,86.4 L972.8,86.1 L973.3,84.6 L973.8,86.5 L974.3,84.9 L974.8,83.7 L975.3,85.3 L975.8,83.4 L976.3,83.3 L976.8,82.6 L977.3,82.6 L977.8,82.7 L978.3,81.8 L978.8,82.4 L979.3,81.2 L979.8,81.5 L980.3,79.6 L980.8,80.5 L981.3,80.6 L981.8,80.9 L982.3,80.0 L982.8,80.1 L983.3,80.0 L983.8,79.0 L984.3,79.7 L984.8,79.3 L985.3,78.5 L985.8,78.0 L986.3,79.6 L986.8,79.3 L987.3,78.6 L987.8,79.1 L988.3,79.2 L988.8,78.0 L989.3,78.4 L989.8,78.3 L990.3,77.8 L990.8,77.0 L991.3,76.3 L991.8,76.8 L992.3,76.0 L992.8,76.5 L993.3,75.3 L993.8,74.6 L994.3,73.3 L994.8,73.7 L995.3,73.7 L995.8,73.0 L996.3,72.3 L996.8,70.8 L997.3,71.5 L997.8,71.9 L998.3,72.6 L998.8,70.3 L999.3,71.2 L999.8,69.7 L1000.3,71.0 L1000.8,70.0 L1001.3,69.9 L1001.8,69.9 L1002.3,68.9 L1002.8,68.7 L1003.3,69.6 L1003.8,67.7 L1004.3,67.9 L1004.8,69.0 L1005.3,68.9 L1005.8,67.7 L1006.3,67.6 L1006.8,68.1 L1007.3,69.2 L1007.8,68.8 L1008.3,67.4 L1008.8,67.0 L1009.3,67.1 L1009.8,65.7 L1010.3,66.9 L1010.8,66.2 L1011.3,67.0 L1011.8,65.5 L1012.3,66.1 L1012.8,65.3 L1013.3,65.1 L1013.8,66.6 L1014.3,64.6 L1014.8,64.9 L1015.3,65.1 L1015.8,66.0 L1016.3,64.7 L1016.8,64.0 L1017.3,64.4 L1017.8,65.3 L1018.3,64.3 L1018.8,64.2 L1019.3,65.2 L1019.8,62.9 L1020.3,64.2 L1020.8,62.6 L1021.3,64.3 L1021.8,64.1 L1022.3,64.5 L1022.8,64.5 L1023.3,64.8 L1023.8,63.2 L1024.3,64.3 L1024.8,66.8 L1025.3,65.4 L1025.8,65.2 L1026.3,65.7 L1026.8,66.0 L1027.3,65.5 L1027.8,66.0 L1028.3,65.8 L1028.8,64.9 L1029.3,65.4 L1029.8,65.7 L1030.3,64.0 L1030.8,64.4 L1031.3,63.5 L1031.8,63.6"/>
<path class="curve" stroke="#00a540" style="stroke-width:2.25" d="M100.8,535.3 L101.3,536.2 L101.8,534.7 L102.3,536.2 L102.8,535.4 L103.3,535.5 L103.8,537.2 L104.3,536.0 L104.8,536.0 L105.3,536.6 L105.8,537.0 L106.3,536.2 L106.8,536.7 L107.3,535.7 L107.8,536.2 L108.3,536.3 L108.8,535.7 L109.3,535.6 L109.8,535.5 L110.3,536.5 L110.8,536.6 L111.3,536.5 L111.8,536.8 L112.3,535.8 L112.8,536.7 L113.3,536.9 L113.8,537.2 L114.3,535.7 L114.8,535.7 L115.3,534.2 L115.8,534.9 L116.3,533.4 L116.8,533.6 L117.3,535.1 L117.8,532.4 L118.3,534.2 L118.8,533.7 L119.3,533.1 L119.8,533.5 L120.3,533.4 L120.8,533.6 L121.3,532.5 L121.8,532.1 L122.3,531.9 L122.8,531.5 L123.3,532.1 L123.8,531.6 L124.3,532.9 L124.8,530.8 L125.3,531.4 L125.8,531.5 L126.3,530.7 L126.8,533.7 L127.3,531.0 L127.8,532.7 L128.3,532.9 L128.8,534.7 L129.3,532.4 L129.8,534.9 L130.3,533.9 L130.8,534.6 L131.3,534.5 L131.8,535.7 L132.3,534.6 L132.8,535.6 L133.3,536.2 L133.8,537.5 L134.3,534.8 L134.8,537.8 L135.3,537.5 L135.8,536.7 L136.3,537.4 L136.8,537.0 L137.3,538.7 L137.8,537.9 L138.3,537.7 L138.8,537.9 L139.3,538.1 L139.8,538.1 L140.3,537.6 L140.8,539.7 L141.3,536.9 L141.8,536.5 L142.3,538.1 L142.8,538.1 L143.3,538.5 L143.8,538.1 L144.3,538.1 L144.8,538.3 L145.3,538.7 L145.8,537.6 L146.3,537.6 L146.8,539.1 L147.3,538.0 L147.8,536.9 L148.3,539.2 L148.8,538.1 L149.3,537.2 L149.8,536.9 L150.3,538.1 L150.8,537.3 L151.3,537.3 L151.8,537.2 L152.3,537.9 L152.8,539.2 L153.3,538.3 L153.8,537.8 L154.3,539.5 L154.8,539.3 L155.3,540.1 L155.8,540.5 L156.3,539.7 L156.8,540.0 L157.3,540.3 L157.8,539.7 L158.3,541.2 L158.8,541.9 L159.3,541.3 L159.8,541.2 L160.3,541.4 L160.8,541.1 L161.3,541.1 L161.8,541.3 L162.3,540.9 L162.8,541.2 L163.3,540.3 L163.8,541.6 L164.3,541.4 L164.8,540.5 L165.3,539.6 L165.8,541.4 L166.3,542.2 L166.8,541.0 L167.3,541.3 L167.8,541.3 L168.3,542.3 L168.8,541.2 L169.3,542.7 L169.8,541.8 L170.3,542.8 L170.8,542.3 L171.3,542.3 L171.8,541.5 L172.3,542.2 L172.8,542.5 L173.3,543.0 L173.8,542.5 L174.3,541.7 L174.8,542.3 L175.3,542.6 L175.8,541.6 L176.3,541.2 L176.8,541.1 L177.3,541.8 L177.8,541.5 L178.3,540.3 L178.8,541.1 L179.3,540.3 L179.8,540.0 L180.3,541.3 L180.8,540.9 L181.3,539.6 L181.8,540.1 L182.3,540.7 L182.8,540.1 L183.3,540.6 L183.8,541.4 L184.3,539.9 L184.8,541.6 L185.3,542.1 L185.8,542.2 L186.3,541.1 L186.8,542.7 L187.3,542.2 L187.8,543.7 L188.3,544.1 L188.8,544.2 L189.3,543.9 L189.8,544.4 L190.3,545.6 L190.8,544.2 L191.3,545.1 L191.8,545.0 L192.3,544.4 L192.8,546.2 L193.3,544.4 L193.8,545.8 L194.3,542.1 L194.8,541.2 L195.3,542.7 L195.8,541.7 L196.3,540.3 L196.8,539.7 L197.3,537.7 L197.8,538.0 L198.3,537.0 L198.8,537.0 L199.3,537.4 L199.8,537.0 L200.3,537.5 L200.8,536.9 L201.3,537.3 L201.8,537.9 L202.3,537.8 L202.8,539.1 L203.3,537.9 L203.8,540.3 L204.3,538.7 L204.8,540.5 L205.3,539.6 L205.8,541.7 L206.3,541.1 L206.8,541.4 L207.3,541.4 L207.8,540.0 L208.3,539.4 L208.8,538.4 L209.3,540.4 L209.8,538.7 L210.3,538.4 L210.8,538.5 L211.3,539.6 L211.8,537.0 L212.3,538.4 L212.8,537.9 L213.3,538.6 L213.8,536.9 L214.3,537.9 L214.8,538.8 L215.3,539.3 L215.8,539.4 L216.3,537.6 L216.8,538.2 L217.3,537.9 L217.8,536.8 L218.3,536.6 L218.8,538.0 L219.3,537.5 L219.8,537.0 L220.3,537.8 L220.8,536.1 L221.3,537.0 L221.8,536.4 L222.3,536.1 L222.8,536.3 L223.3,535.9 L223.8,535.7 L224.3,535.5 L224.8,536.5 L225.3,534.6 L225.8,535.3 L226.3,534.6 L226.8,533.6 L227.3,534.0 L227.8,532.5 L228.3,533.6 L228.8,531.8 L229.3,531.7 L229.8,531.9 L230.3,531.8 L230.8,531.5 L231.3,531.1 L231.8,529.9 L232.3,528.9 L232.8,529.6 L233.3,529.0 L233.8,527.7 L234.3,528.6 L234.8,527.7 L235.3,526.6 L235.8,527.4 L236.3,525.9 L236.8,525.9 L237.3,526.6 L237.8,525.0 L238.3,526.2 L238.8,525.2 L239.3,526.7 L239.8,525.6 L240.3,526.3 L240.8,525.1 L241.3,525.9 L241.8,526.4 L242.3,525.6 L242.8,523.5 L243.3,524.9 L243.8,524.4 L244.3,523.0 L244.8,523.8 L245.3,521.5 L245.8,521.9 L246.3,522.3 L246.8,522.1 L247.3,521.7 L247.8,519.6 L248.3,518.8 L248.8,520.2 L249.3,518.8 L249.8,519.6 L250.3,518.6 L250.8,520.2 L251.3,519.9 L251.8,519.3 L252.3,518.5 L252.8,518.1 L253.3,517.4 L253.8,517.5 L254.3,517.0 L254.8,516.7 L255.3,515.7 L255.8,516.9 L256.3,515.5 L256.8,516.0 L257.3,515.7 L257.8,513.8 L258.3,513.0 L258.8,514.8 L259.3,513.4 L259.8,513.5 L260.3,513.3 L260.8,513.9 L261.3,512.9 L261.8,513.7 L262.3,513.4 L262.8,513.8 L263.3,512.1 L263.8,514.3 L264.3,513.8 L264.8,512.1 L265.3,512.7 L265.8,513.1 L266.3,513.3 L266.8,512.7 L267.3,513.5 L267.8,512.4 L268.3,511.5 L268.8,511.6 L269.3,512.4 L269.8,511.3 L270.3,512.1 L270.8,512.1 L271.3,511.6 L271.8,511.8 L272.3,510.8 L272.8,510.7 L273.3,509.9 L273.8,509.5 L274.3,508.5 L274.8,508.8 L275.3,508.1 L275.8,507.5 L276.3,508.2 L276.8,508.1 L277.3,507.1 L277.8,508.1 L278.3,507.5 L278.8,507.2 L279.3,505.8 L279.8,504.8 L280.3,506.0 L280.8,505.5 L281.3,505.5 L281.8,505.0 L282.3,505.5 L282.8,504.2 L283.3,504.8 L283.8,503.5 L284.3,502.4 L284.8,503.6 L285.3,504.8 L285.8,502.4 L286.3,504.2 L286.8,502.5 L287.3,502.2 L287.8,501.9 L288.3,501.5 L288.8,500.1 L289.3,500.4 L289.8,500.1 L290.3,499.8 L290.8,498.0 L291.3,499.0 L291.8,498.7 L292.3,498.4 L292.8,495.1 L293.3,495.8 L293.8,494.5 L294.3,496.3 L294.8,496.5 L295.3,495.5 L295.8,495.3 L296.3,496.8 L296.8,497.2 L297.3,496.2 L297.8,496.4 L298.3,494.8 L298.8,495.9 L299.3,496.4 L299.8,496.2 L300.3,497.1 L300.8,495.0 L301.3,493.8 L301.8,495.3 L302.3,494.1 L302.8,494.3 L303.3,494.1 L303.8,493.6 L304.3,493.8 L304.8,493.5 L305.3,491.1 L305.8,492.1 L306.3,493.4 L306.8,491.5 L307.3,492.3 L307.8,491.4 L308.3,491.0 L308.8,492.3 L309.3,491.8 L309.8,490.9 L310.3,491.7 L310.8,490.1 L311.3,490.6 L311.8,491.7 L312.3,491.1 L312.8,490.3 L313.3,491.4 L313.8,491.2 L314.3,491.6 L314.8,491.1 L315.3,490.0 L315.8,489.6 L316.3,489.6 L316.8,488.9 L317.3,489.0 L317.8,488.0 L318.3,486.7 L318.8,484.9 L319.3,483.3 L319.8,483.3 L320.3,482.1 L320.8,482.2 L321.3,480.6 L321.8,481.1 L322.3,482.2 L322.8,480.1 L323.3,479.5 L323.8,481.1 L324.3,483.3 L324.8,484.0 L325.3,483.6 L325.8,484.4 L326.3,485.5 L326.8,485.3 L327.3,486.2 L327.8,486.1 L328.3,485.5 L328.8,486.3 L329.3,486.8 L329.8,486.5 L330.3,486.4 L330.8,487.6 L331.3,488.0 L331.8,486.1 L332.3,485.7 L332.8,486.1 L333.3,485.3 L333.8,484.6 L334.3,485.5 L334.8,483.0 L335.3,482.4 L335.8,481.6 L336.3,480.7 L336.8,480.3 L337.3,480.1 L337.8,480.0 L338.3,478.7 L338.8,477.6 L339.3,476.0 L339.8,476.2 L340.3,474.9 L340.8,474.9 L341.3,475.0 L341.8,473.7 L342.3,472.8 L342.8,472.1 L343.3,472.4 L343.8,472.3 L344.3,471.3 L344.8,471.3 L345.3,472.1 L345.8,470.0 L346.3,470.6 L346.8,469.8 L347.3,471.2 L347.8,469.9 L348.3,469.3 L348.8,468.6 L349.3,467.9 L349.8,467.3 L350.3,465.4 L350.8,466.2 L351.3,466.1 L351.8,464.4 L352.3,465.7 L352.8,465.3 L353.3,463.4 L353.8,463.9 L354.3,463.7 L354.8,463.4 L355.3,464.0 L355.8,462.7 L356.3,463.3 L356.8,463.5 L357.3,463.8 L357.8,463.2 L358.3,462.8 L358.8,462.8 L359.3,460.3 L359.8,461.8 L360.3,460.3 L360.8,459.1 L361.3,459.0 L361.8,457.4 L362.3,457.1 L362.8,458.3 L363.3,458.0 L363.8,459.1 L364.3,457.9 L364.8,457.6 L365.3,457.9 L365.8,459.8 L366.3,458.8 L366.8,458.5 L367.3,458.4 L367.8,458.5 L368.3,459.3 L368.8,459.9 L369.3,460.6 L369.8,460.7 L370.3,460.2 L370.8,458.8 L371.3,457.8 L371.8,456.0 L372.3,456.1 L372.8,456.3 L373.3,455.0 L373.8,454.7 L374.3,452.8 L374.8,453.8 L375.3,452.8 L375.8,452.0 L376.3,451.7 L376.8,449.2 L377.3,449.8 L377.8,449.0 L378.3,450.4 L378.8,448.5 L379.3,448.0 L379.8,448.7 L380.3,447.1 L380.8,448.6 L381.3,446.9 L381.8,447.1 L382.3,446.2 L382.8,447.2 L383.3,444.7 L383.8,446.3 L384.3,444.7 L384.8,444.8 L385.3,443.5 L385.8,444.0 L386.3,443.4 L386.8,443.2 L387.3,442.4 L387.8,442.1 L388.3,441.7 L388.8,440.1 L389.3,439.0 L389.8,438.3 L390.3,439.1 L390.8,437.8 L391.3,438.6 L391.8,437.6 L392.3,436.6 L392.8,437.7 L393.3,438.2 L393.8,436.5 L394.3,435.7 L394.8,435.5 L395.3,436.5 L395.8,435.7 L396.3,436.1 L396.8,437.1 L397.3,436.8 L397.8,437.1 L398.3,436.8 L398.8,437.0 L399.3,437.8 L399.8,438.0 L400.3,438.2 L400.8,437.4 L401.3,437.9 L401.8,438.0 L402.3,437.7 L402.8,437.9 L403.3,438.2 L403.8,437.6 L404.3,437.4 L404.8,436.5 L405.3,437.3 L405.8,436.8 L406.3,436.5 L406.8,435.9 L407.3,436.8 L407.8,437.9 L408.3,436.3 L408.8,435.9 L409.3,436.0 L409.8,435.1 L410.3,435.5 L410.8,434.7 L411.3,434.1 L411.8,434.1 L412.3,433.4 L412.8,432.5 L413.3,431.3 L413.8,431.4 L414.3,429.8 L414.8,430.4 L415.3,429.0 L415.8,428.6 L416.3,428.6 L416.8,427.8 L417.3,425.8 L417.8,426.0 L418.3,425.8 L418.8,424.1 L419.3,422.6 L419.8,423.8 L420.3,423.9 L420.8,424.3 L421.3,424.1 L421.8,424.2 L422.3,424.4 L422.8,425.3 L423.3,424.7 L423.8,424.8 L424.3,424.2 L424.8,425.4 L425.3,424.5 L425.8,425.2 L426.3,423.2 L426.8,425.0 L427.3,424.7 L427.8,423.9 L428.3,424.5 L428.8,423.3 L429.3,422.3 L429.8,421.4 L430.3,422.6 L430.8,421.2 L431.3,420.5 L431.8,419.0 L432.3,420.0 L432.8,419.0 L433.3,417.9 L433.8,417.8 L434.3,417.0 L434.8,418.9 L435.3,418.0 L435.8,419.7 L436.3,419.1 L436.8,419.2 L437.3,420.2 L437.8,420.2 L438.3,419.4 L438.8,420.4 L439.3,421.0 L439.8,420.6 L440.3,419.9 L440.8,420.9 L441.3,420.0 L441.8,419.7 L442.3,419.7 L442.8,419.1 L443.3,418.5 L443.8,417.0 L444.3,417.9 L444.8,417.1 L445.3,416.7 L445.8,416.8 L446.3,417.8 L446.8,415.3 L447.3,414.8 L447.8,416.3 L448.3,414.9 L448.8,416.2 L449.3,414.3 L449.8,414.3 L450.3,415.0 L450.8,414.7 L451.3,414.1 L451.8,413.8 L452.3,413.1 L452.8,412.6 L453.3,412.5 L453.8,413.3 L454.3,412.6 L454.8,411.9 L455.3,411.8 L455.8,411.9 L456.3,412.2 L456.8,411.3 L457.3,411.5 L457.8,411.9 L458.3,413.5 L458.8,412.1 L459.3,412.9 L459.8,411.0 L460.3,412.9 L460.8,411.3 L461.3,411.5 L461.8,411.8 L462.3,412.1 L462.8,412.3 L463.3,412.3 L463.8,412.2 L464.3,411.7 L464.8,413.3 L465.3,411.5 L465.8,411.3 L466.3,411.9 L466.8,410.7 L467.3,410.0 L467.8,409.4 L468.3,410.2 L468.8,407.9 L469.3,407.7 L469.8,408.2 L470.3,406.4 L470.8,407.1 L471.3,408.2 L471.8,406.8 L472.3,407.0 L472.8,407.0 L473.3,405.3 L473.8,405.8 L474.3,404.7 L474.8,403.9 L475.3,404.1 L475.8,403.8 L476.3,403.1 L476.8,402.7 L477.3,403.9 L477.8,404.0 L478.3,403.5 L478.8,403.0 L479.3,402.3 L479.8,402.4 L480.3,402.2 L480.8,403.1 L481.3,403.6 L481.8,403.5 L482.3,402.8 L482.8,402.5 L483.3,402.9 L483.8,402.8 L484.3,403.1 L484.8,403.7 L485.3,402.2 L485.8,404.0 L486.3,401.0 L486.8,401.1 L487.3,401.2 L487.8,401.4 L488.3,401.9 L488.8,403.4 L489.3,401.4 L489.8,402.5 L490.3,401.4 L490.8,401.5 L491.3,400.5 L491.8,402.6 L492.3,400.8 L492.8,400.2 L493.3,402.0 L493.8,400.3 L494.3,400.3 L494.8,399.4 L495.3,398.1 L495.8,396.9 L496.3,397.0 L496.8,397.5 L497.3,395.8 L497.8,394.8 L498.3,395.5 L498.8,393.9 L499.3,395.3 L499.8,394.1 L500.3,393.3 L500.8,394.2 L501.3,393.8 L501.8,393.0 L502.3,393.1 L502.8,393.3 L503.3,393.3 L503.8,391.4 L504.3,390.0 L504.8,392.8 L505.3,390.8 L505.8,390.4 L506.3,390.6 L506.8,389.8 L507.3,390.9 L507.8,389.3 L508.3,390.1 L508.8,389.4 L509.3,391.5 L509.8,390.3 L510.3,391.3 L510.8,391.6 L511.3,389.9 L511.8,390.8 L512.3,391.6 L512.8,391.2 L513.3,391.2 L513.8,392.1 L514.3,392.2 L514.8,390.5 L515.3,390.3 L515.8,390.3 L516.3,389.5 L516.8,388.9 L517.3,387.5 L517.8,389.0 L518.3,387.1 L518.8,387.1 L519.3,386.4 L519.8,386.1 L520.3,385.8 L520.8,384.7 L521.3,385.1 L521.8,385.3 L522.3,384.8 L522.8,385.1 L523.3,385.0 L523.8,384.8 L524.3,386.1 L524.8,384.4 L525.3,385.2 L525.8,385.7 L526.3,385.3 L526.8,384.4 L527.3,384.4 L527.8,386.3 L528.3,384.6 L528.8,385.3 L529.3,385.8 L529.8,385.5 L530.3,384.2 L530.8,384.2 L531.3,385.5 L531.8,385.1 L532.3,385.6 L532.8,385.9 L533.3,386.1 L533.8,385.1 L534.3,384.9 L534.8,386.9 L535.3,385.8 L535.8,385.4 L536.3,384.7 L536.8,386.5 L537.3,385.1 L537.8,385.2 L538.3,386.3 L538.8,386.0 L539.3,386.1 L539.8,384.8 L540.3,383.9 L540.8,384.8 L541.3,385.3 L541.8,385.1 L542.3,386.2 L542.8,385.8 L543.3,384.8 L543.8,385.9 L544.3,385.4 L544.8,385.2 L545.3,386.3 L545.8,384.0 L546.3,385.7 L546.8,385.4 L547.3,382.9 L547.8,383.9 L548.3,383.7 L548.8,382.7 L549.3,382.8 L549.8,382.3 L550.3,382.3 L550.8,381.2 L551.3,379.4 L551.8,381.1 L552.3,380.3 L552.8,378.4 L553.3,378.9 L553.8,379.3 L554.3,376.5 L554.8,377.0 L555.3,376.7 L555.8,377.2 L556.3,376.3 L556.8,375.3 L557.3,376.9 L557.8,375.9 L558.3,376.9 L558.8,378.1 L559.3,376.1 L559.8,376.5 L560.3,377.6 L560.8,376.8 L561.3,377.1 L561.8,376.6 L562.3,378.2 L562.8,376.8 L563.3,376.4 L563.8,376.1 L564.3,376.2 L564.8,374.6 L565.3,375.4 L565.8,376.0 L566.3,374.6 L566.8,375.6 L567.3,375.6 L567.8,375.4 L568.3,377.5 L568.8,376.4 L569.3,376.2 L569.8,375.5 L570.3,376.2 L570.8,376.1 L571.3,376.4 L571.8,376.8 L572.3,378.5 L572.8,378.0 L573.3,378.4 L573.8,378.3 L574.3,379.2 L574.8,377.2 L575.3,376.9 L575.8,378.1 L576.3,377.7 L576.8,377.1 L577.3,376.2 L577.8,376.7 L578.3,377.0 L578.8,375.4 L579.3,374.7 L579.8,375.2 L580.3,373.7 L580.8,373.3 L581.3,373.5 L581.8,371.3 L582.3,373.9 L582.8,372.2 L583.3,372.3 L583.8,371.8 L584.3,371.6 L584.8,370.2 L585.3,372.2 L585.8,371.2 L586.3,370.9 L586.8,372.2 L587.3,369.4 L587.8,370.7 L588.3,369.5 L588.8,367.9 L589.3,369.8 L589.8,366.7 L590.3,367.3 L590.8,366.6 L591.3,366.1 L591.8,364.8 L592.3,365.9 L592.8,364.6 L593.3,363.0 L593.8,362.6 L594.3,363.1 L594.8,361.6 L595.3,362.3 L595.8,362.3 L596.3,362.0 L596.8,361.3 L597.3,362.0 L597.8,363.5 L598.3,363.2 L598.8,365.2 L599.3,363.9 L599.8,364.7 L600.3,365.3 L600.8,365.1 L601.3,365.6 L601.8,366.4 L602.3,365.9 L602.8,366.5 L603.3,366.3 L603.8,368.2 L604.3,367.1 L604.8,367.8 L605.3,365.7 L605.8,367.3 L606.3,367.0 L606.8,368.1 L607.3,367.9 L607.8,367.6 L608.3,368.0 L608.8,368.8 L609.3,368.9 L609.8,367.7 L610.3,368.8 L610.8,367.5 L611.3,368.3 L611.8,366.6 L612.3,367.4 L612.8,367.7 L613.3,365.2 L613.8,365.6 L614.3,363.1 L614.8,363.6 L615.3,365.6 L615.8,363.8 L616.3,364.1 L616.8,362.5 L617.3,363.6 L617.8,363.0 L618.3,364.3 L618.8,363.0 L619.3,364.8 L619.8,362.1 L620.3,362.9 L620.8,360.9 L621.3,361.8 L621.8,362.7 L622.3,361.5 L622.8,360.4 L623.3,361.5 L623.8,361.8 L624.3,361.5 L624.8,361.9 L625.3,360.2 L625.8,362.5 L626.3,361.8 L626.8,359.8 L627.3,362.7 L627.8,361.0 L628.3,361.7 L628.8,359.8 L629.3,360.6 L629.8,359.6 L630.3,361.4 L630.8,360.5 L631.3,359.9 L631.8,360.2 L632.3,361.2 L632.8,359.6 L633.3,360.3 L633.8,358.8 L634.3,358.2 L634.8,358.8 L635.3,358.6 L635.8,358.7 L636.3,359.0 L636.8,358.1 L637.3,358.1 L637.8,358.9 L638.3,358.7 L638.8,358.3 L639.3,358.5 L639.8,356.8 L640.3,358.0 L640.8,357.2 L641.3,357.5 L641.8,357.9 L642.3,355.5 L642.8,356.8 L643.3,355.2 L643.8,354.9 L644.3,354.2 L644.8,354.8 L645.3,353.8 L645.8,352.8 L646.3,354.5 L646.8,354.2 L647.3,354.7 L647.8,354.8 L648.3,353.8 L648.8,355.0 L649.3,355.2 L649.8,355.3 L650.3,355.7 L650.8,356.1 L651.3,355.7 L651.8,356.3 L652.3,357.2 L652.8,355.4 L653.3,355.9 L653.8,355.0 L654.3,354.7 L654.8,354.9 L655.3,355.1 L655.8,355.8 L656.3,354.3 L656.8,354.9 L657.3,354.7 L657.8,354.3 L658.3,352.6 L658.8,354.4 L659.3,354.3 L659.8,353.5 L660.3,354.4 L660.8,355.3 L661.3,353.4 L661.8,353.6 L662.3,354.4 L662.8,352.3 L663.3,352.6 L663.8,353.4 L664.3,353.6 L664.8,353.6 L665.3,353.0 L665.8,353.9 L666.3,352.3 L666.8,350.8 L667.3,351.3 L667.8,351.6 L668.3,351.1 L668.8,349.2 L669.3,350.6 L669.8,349.4 L670.3,349.6 L670.8,350.7 L671.3,349.4 L671.8,348.9 L672.3,349.2 L672.8,348.7 L673.3,350.5 L673.8,349.5 L674.3,349.4 L674.8,348.2 L675.3,348.3 L675.8,348.9 L676.3,347.2 L676.8,349.5 L677.3,347.9 L677.8,348.9 L678.3,349.2 L678.8,348.4 L679.3,349.2 L679.8,349.3 L680.3,350.0 L680.8,348.8 L681.3,349.6 L681.8,348.5 L682.3,347.9 L682.8,348.4 L683.3,347.3 L683.8,347.6 L684.3,347.9 L684.8,348.3 L685.3,347.7 L685.8,346.4 L686.3,348.4 L686.8,347.6 L687.3,347.3 L687.8,346.9 L688.3,347.9 L688.8,347.4 L689.3,347.3 L689.8,346.4 L690.3,347.2 L690.8,345.6 L691.3,345.7 L691.8,345.2 L692.3,345.4 L692.8,343.4 L693.3,342.9 L693.8,342.2 L694.3,341.2 L694.8,340.4 L695.3,339.3 L695.8,340.0 L696.3,340.0 L696.8,338.0 L697.3,338.9 L697.8,337.2 L698.3,337.2 L698.8,337.2 L699.3,337.2 L699.8,337.2 L700.3,335.4 L700.8,335.8 L701.3,336.7 L701.8,336.4 L702.3,338.0 L702.8,336.2 L703.3,335.8 L703.8,337.1 L704.3,334.4 L704.8,334.6 L705.3,337.4 L705.8,335.0 L706.3,335.3 L706.8,334.9 L707.3,334.1 L707.8,334.5 L708.3,333.4 L708.8,334.8 L709.3,334.4 L709.8,334.1 L710.3,332.3 L710.8,330.8 L711.3,331.6 L711.8,330.9 L712.3,331.7 L712.8,330.0 L713.3,330.3 L713.8,330.8 L714.3,331.0 L714.8,330.7 L715.3,329.7 L715.8,330.1 L716.3,332.0 L716.8,331.2 L717.3,329.9 L717.8,331.9 L718.3,330.7 L718.8,331.0 L719.3,330.6 L719.8,332.5 L720.3,331.7 L720.8,331.7 L721.3,331.2 L721.8,330.7 L722.3,331.5 L722.8,331.1 L723.3,332.0 L723.8,330.0 L724.3,330.1 L724.8,330.8 L725.3,330.3 L725.8,328.7 L726.3,329.7 L726.8,328.5 L727.3,328.3 L727.8,327.4 L728.3,327.7 L728.8,326.8 L729.3,327.1 L729.8,328.1 L730.3,327.7 L730.8,327.8 L731.3,328.4 L731.8,327.9 L732.3,327.8 L732.8,325.7 L733.3,326.7 L733.8,327.5 L734.3,326.1 L734.8,326.3 L735.3,326.5 L735.8,325.8 L736.3,325.8 L736.8,324.8 L737.3,323.7 L737.8,323.9 L738.3,322.2 L738.8,321.2 L739.3,321.7 L739.8,322.2 L740.3,321.9 L740.8,321.5 L741.3,322.2 L741.8,323.0 L742.3,323.6 L742.8,324.6 L743.3,323.4 L743.8,323.5 L744.3,322.3 L744.8,324.9 L745.3,324.8 L745.8,324.3 L746.3,323.8 L746.8,322.1 L747.3,323.9 L747.8,322.3 L748.3,323.5 L748.8,322.5 L749.3,322.4 L749.8,320.9 L750.3,321.4 L750.8,319.1 L751.3,320.6 L751.8,319.0 L752.3,317.7 L752.8,317.8 L753.3,316.9 L753.8,317.3 L754.3,316.2 L754.8,315.4 L755.3,315.7 L755.8,315.5 L756.3,315.4 L756.8,315.4 L757.3,315.5 L757.8,314.5 L758.3,315.0 L758.8,311.8 L759.3,313.1 L759.8,313.5 L760.3,311.6 L760.8,312.0 L761.3,312.0 L761.8,310.9 L762.3,311.7 L762.8,312.6 L763.3,312.1 L763.8,313.6 L764.3,314.3 L764.8,312.0 L765.3,310.7 L765.8,310.9 L766.3,310.0 L766.8,308.8 L767.3,309.0 L767.8,308.5 L768.3,308.1 L768.8,308.6 L769.3,308.2 L769.8,307.3 L770.3,306.3 L770.8,306.4 L771.3,305.8 L771.8,305.8 L772.3,304.9 L772.8,303.8 L773.3,306.0 L773.8,304.9 L774.3,304.9 L774.8,305.2 L775.3,305.0 L775.8,304.8 L776.3,305.9 L776.8,304.7 L777.3,304.5 L777.8,303.5 L778.3,303.9 L778.8,304.1 L779.3,303.5 L779.8,303.6 L780.3,302.4 L780.8,302.8 L781.3,301.2 L781.8,301.1 L782.3,300.3 L782.8,300.4 L783.3,300.5 L783.8,299.4 L784.3,298.2 L784.8,298.7 L785.3,299.1 L785.8,298.6 L786.3,298.2 L786.8,296.8 L787.3,297.0 L787.8,296.7 L788.3,296.8 L788.8,297.2 L789.3,297.0 L789.8,296.7 L790.3,297.3 L790.8,296.3 L791.3,296.5 L791.8,296.4 L792.3,294.6 L792.8,294.2 L793.3,293.1 L793.8,292.6 L794.3,292.5 L794.8,291.7 L795.3,291.3 L795.8,290.6 L796.3,288.8 L796.8,290.2 L797.3,289.1 L797.8,286.5 L798.3,286.1 L798.8,286.1 L799.3,286.4 L799.8,286.5 L800.3,286.0 L800.8,284.1 L801.3,287.3 L801.8,286.1 L802.3,286.0 L802.8,284.9 L803.3,285.6 L803.8,286.2 L804.3,285.2 L804.8,286.4 L805.3,285.7 L805.8,286.5 L806.3,285.2 L806.8,286.1 L807.3,283.7 L807.8,285.6 L808.3,284.7 L808.8,283.9 L809.3,284.1 L809.8,282.1 L810.3,281.9 L810.8,280.9 L811.3,279.9 L811.8,279.7 L812.3,278.5 L812.8,278.8 L813.3,277.2 L813.8,276.4 L814.3,276.2 L814.8,275.5 L815.3,274.3 L815.8,274.9 L816.3,273.9 L816.8,274.5 L817.3,274.5 L817.8,274.3 L818.3,273.9 L818.8,274.7 L819.3,274.5 L819.8,275.5 L820.3,274.9 L820.8,275.0 L821.3,273.9 L821.8,273.8 L822.3,273.0 L822.8,273.2 L823.3,274.2 L823.8,273.4 L824.3,273.3 L824.8,272.9 L825.3,274.2 L825.8,273.0 L826.3,273.7 L826.8,272.7 L827.3,273.3 L827.8,271.8 L828.3,271.4 L828.8,273.0 L829.3,271.9 L829.8,271.9 L830.3,271.9 L830.8,271.4 L831.3,270.7 L831.8,269.2 L832.3,269.2 L832.8,269.3 L833.3,269.3 L833.8,268.8 L834.3,268.3 L834.8,267.0 L835.3,267.1 L835.8,267.4 L836.3,265.6 L836.8,265.4 L837.3,265.8 L837.8,265.5 L838.3,263.9 L838.8,262.9 L839.3,261.4 L839.8,261.3 L840.3,260.4 L840.8,260.7 L841.3,260.9 L841.8,260.4 L842.3,260.7 L842.8,258.7 L843.3,258.3 L843.8,259.9 L844.3,259.6 L844.8,258.1 L845.3,258.8 L845.8,257.9 L846.3,258.6 L846.8,258.8 L847.3,259.2 L847.8,257.8 L848.3,257.6 L848.8,259.0 L849.3,258.4 L849.8,259.7 L850.3,258.0 L850.8,258.4 L851.3,257.2 L851.8,259.4 L852.3,259.2 L852.8,258.2 L853.3,257.3 L853.8,255.8 L854.3,255.9 L854.8,256.2 L855.3,257.6 L855.8,256.5 L856.3,255.3 L856.8,255.9 L857.3,255.9 L857.8,255.7 L858.3,254.6 L858.8,254.8 L859.3,255.7 L859.8,255.4 L860.3,254.3 L860.8,255.5 L861.3,253.4 L861.8,252.2 L862.3,252.5 L862.8,251.7 L863.3,250.4 L863.8,251.1 L864.3,250.2 L864.8,248.9 L865.3,249.0 L865.8,248.5 L866.3,247.4 L866.8,247.6 L867.3,246.3 L867.8,246.2 L868.3,246.6 L868.8,245.0 L869.3,245.4 L869.8,244.7 L870.3,245.7 L870.8,244.5 L871.3,246.0 L871.8,245.6 L872.3,243.8 L872.8,244.3 L873.3,243.9 L873.8,244.0 L874.3,244.4 L874.8,244.9 L875.3,245.3 L875.8,244.9 L876.3,242.6 L876.8,243.2 L877.3,243.4 L877.8,243.4 L878.3,243.8 L878.8,244.2 L879.3,243.4 L879.8,243.4 L880.3,245.5 L880.8,244.4 L881.3,245.2 L881.8,242.6 L882.3,243.4 L882.8,243.0 L883.3,242.2 L883.8,240.1 L884.3,240.4 L884.8,238.9 L885.3,238.1 L885.8,238.4 L886.3,238.3 L886.8,237.3 L887.3,236.8 L887.8,236.9 L888.3,235.4 L888.8,235.7 L889.3,235.5 L889.8,235.2 L890.3,235.0 L890.8,233.8 L891.3,234.1 L891.8,233.9 L892.3,234.5 L892.8,232.7 L893.3,233.8 L893.8,232.3 L894.3,233.7 L894.8,232.6 L895.3,232.8 L895.8,233.1 L896.3,233.6 L896.8,231.9 L897.3,233.0 L897.8,231.8 L898.3,233.3 L898.8,233.3 L899.3,234.5 L899.8,234.3 L900.3,234.6 L900.8,233.8 L901.3,234.5 L901.8,234.0 L902.3,234.9 L902.8,233.9 L903.3,235.3 L903.8,236.0 L904.3,236.9 L904.8,235.8 L905.3,235.2 L905.8,234.4 L906.3,234.5 L906.8,232.9 L907.3,232.8 L907.8,230.8 L908.3,231.4 L908.8,232.3 L909.3,229.9 L909.8,231.1 L910.3,230.5 L910.8,229.9 L911.3,230.1 L911.8,229.2 L912.3,227.8 L912.8,227.9 L913.3,226.0 L913.8,227.7 L914.3,226.0 L914.8,226.0 L915.3,224.1 L915.8,225.5 L916.3,224.4 L916.8,223.3 L917.3,222.7 L917.8,222.3 L918.3,220.9 L918.8,220.8 L919.3,220.8 L919.8,221.3 L920.3,222.2 L920.8,222.1 L921.3,221.6 L921.8,222.0 L922.3,221.4 L922.8,221.3 L923.3,220.4 L923.8,220.5 L924.3,220.4 L924.8,221.0 L925.3,220.8 L925.8,220.9 L926.3,220.8 L926.8,219.7 L927.3,218.5 L927.8,217.6 L928.3,217.0 L928.8,217.1 L929.3,215.8 L929.8,215.2 L930.3,215.9 L930.8,216.6 L931.3,216.5 L931.8,215.9 L932.3,213.9 L932.8,215.1 L933.3,215.8 L933.8,216.1 L934.3,216.7 L934.8,214.8 L935.3,215.8 L935.8,214.5 L936.3,215.5 L936.8,215.0 L937.3,215.5 L937.8,214.7 L938.3,212.9 L938.8,213.7 L939.3,213.7 L939.8,214.1 L940.3,212.2 L940.8,211.7 L941.3,211.5 L941.8,212.2 L942.3,210.9 L942.8,210.8 L943.3,210.6 L943.8,209.3 L944.3,210.5 L944.8,208.4 L945.3,210.6 L945.8,208.6 L946.3,208.3 L946.8,208.2 L947.3,207.7 L947.8,207.8 L948.3,208.0 L948.8,207.8 L949.3,208.6 L949.8,209.1 L950.3,208.5 L950.8,209.2 L951.3,208.5 L951.8,209.4 L952.3,209.0 L952.8,208.6 L953.3,209.5 L953.8,209.3 L954.3,209.0 L954.8,209.5 L955.3,209.8 L955.8,207.8 L956.3,207.6 L956.8,207.7 L957.3,206.6 L957.8,206.4 L958.3,207.0 L958.8,204.3 L959.3,205.3 L959.8,204.6 L960.3,205.7 L960.8,204.9 L961.3,203.3 L961.8,204.9 L962.3,204.0 L962.8,203.6 L963.3,203.6 L963.8,203.6 L964.3,202.6 L964.8,202.8 L965.3,203.8 L965.8,201.9 L966.3,202.0 L966.8,202.8 L967.3,201.4 L967.8,201.8 L968.3,202.0 L968.8,201.0 L969.3,201.3 L969.8,200.8 L970.3,201.2 L970.8,201.4 L971.3,201.2 L971.8,201.5 L972.3,201.7 L972.8,202.0 L973.3,200.8 L973.8,201.8 L974.3,202.9 L974.8,201.7 L975.3,201.8 L975.8,202.1 L976.3,201.7 L976.8,202.8 L977.3,202.5 L977.8,202.5 L978.3,203.3 L978.8,203.8 L979.3,202.1 L979.8,202.3 L980.3,201.9 L980.8,200.5 L981.3,201.5 L981.8,202.0 L982.3,200.5 L982.8,200.3 L983.3,197.3 L983.8,197.5 L984.3,196.1 L984.8,196.7 L985.3,195.2 L985.8,194.3 L986.3,193.9 L986.8,193.2 L987.3,193.4 L987.8,192.8 L988.3,192.1 L988.8,189.8 L989.3,191.5 L989.8,190.3 L990.3,188.7 L990.8,189.6 L991.3,189.3 L991.8,189.4 L992.3,190.2 L992.8,188.5 L993.3,189.9 L993.8,190.3 L994.3,188.7 L994.8,190.8 L995.3,189.7 L995.8,190.1 L996.3,191.7 L996.8,191.5 L997.3,190.6 L997.8,191.7 L998.3,192.7 L998.8,192.0 L999.3,192.2 L999.8,192.6 L1000.3,192.7 L1000.8,192.4 L1001.3,192.3 L1001.8,192.9 L1002.3,193.1 L1002.8,190.2 L1003.3,191.8 L1003.8,191.9 L1004.3,190.2 L1004.8,191.5 L1005.3,189.1 L1005.8,190.7 L1006.3,190.9 L1006.8,190.7 L1007.3,187.7 L1007.8,189.3 L1008.3,188.4 L1008.8,189.2 L1009.3,189.7 L1009.8,188.8 L1010.3,189.3 L1010.8,186.4 L1011.3,186.6 L1011.8,186.8 L1012.3,187.6 L1012.8,187.9 L1013.3,186.4 L1013.8,186.3 L1014.3,187.5 L1014.8,186.0 L1015.3,187.4 L1015.8,186.6 L1016.3,187.2 L1016.8,188.9 L1017.3,187.3 L1017.8,187.7 L1018.3,187.2 L1018.8,188.3 L1019.3,189.1 L1019.8,188.1 L1020.3,186.3 L1020.8,187.1 L1021.3,187.6 L1021.8,185.4 L1022.3,185.6 L1022.8,184.6 L1023.3,184.7 L1023.8,184.4 L1024.3,184.0 L1024.8,185.3 L1025.3,184.8 L1025.8,183.2 L1026.3,183.9 L1026.8,184.0 L1027.3,183.7 L1027.8,184.4 L1028.3,184.1 L1028.8,184.4 L1029.3,183.0 L1029.8,183.3 L1030.3,183.4 L1030.8,183.3 L1031.3,183.2 L1031.8,182.7 L1032.3,183.0"/>
</g>
<g class="tl"><text x="255.5" y="634.3" text-anchor="middle">100</text><text x="410.5" y="634.3" text-anchor="middle">200</text><text x="565.5" y="634.3" text-anchor="middle">300</text><text x="721.5" y="634.3" text-anchor="middle">400</text><text x="876.5" y="634.3" text-anchor="middle">500</text><text x="1032.5" y="634.3" text-anchor="middle">600</text><text x="92.3" y="604.3" text-anchor="end">296</text><text x="92.3" y="540.3" text-anchor="end">297</text><text x="92.3" y="475.3" text-anchor="end">298</text><text x="92.3" y="411.3" text-anchor="end">299</text><text x="92.3" y="346.3" text-anchor="end">300</text><text x="92.3" y="281.3" text-anchor="end">301</text><text x="92.3" y="217.3" text-anchor="end">302</text><text x="92.3" y="152.3" text-anchor="end">303</text><text x="92.3" y="88.3" text-anchor="end">304</text><text x="92.3" y="23.3" text-anchor="end">305</text></g>
<g id="xlab" font-size="43" fill="#262626"><text x="491.9" y="678.3" letter-spacing="1.36">Time</text><text x="599.2" y="678.3" letter-spacing="1.1">(s)</text></g>
<text id="ylab" transform="translate(25.8,422.4) rotate(-90)" textLength="259" lengthAdjust="spacing" font-size="35.2" fill="#262626">Temperature (K)</text>
<g id="legend">
<rect x="494.5" y="447.5" width="531" height="137" fill="#ffffff" stroke="#262626" stroke-width="1.2"/>
<line x1="494.5" y1="483.5" x2="1025.5" y2="483.5" stroke="#262626" stroke-width="1.2"/>
<text id="lt" x="760" y="474.5" text-anchor="middle" font-size="23.92" font-weight="bold" fill="#000">Sensor Temperature Output</text>
<line x1="498.5" y1="501.4" x2="538.5" y2="501.4" stroke="#0512be" stroke-width="2.8"/>
<line x1="498.5" y1="534.4" x2="538.5" y2="534.4" stroke="#dc2030" stroke-width="2.8"/>
<line x1="498.5" y1="566.4" x2="538.5" y2="566.4" stroke="#00a540" stroke-width="2.8"/>
<g font-size="24.07" fill="#000">
<text id="l1" x="540.4" y="511.1">MOSFET Case Temperature (S1)</text>
<text id="l2" x="540.4" y="544">Damping Resistor Case Temperature (S2)</text>
<text id="l3" x="540.4" y="576.7">Customized Heatsink (CH) Temperature (S3)</text>
</g></g>
</svg>
</body></html>
